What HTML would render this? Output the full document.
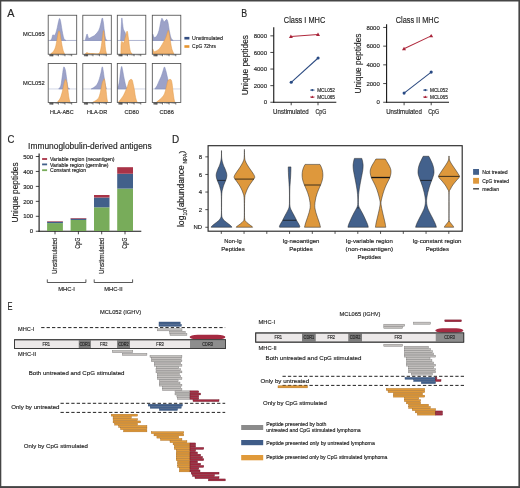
<!DOCTYPE html>
<html lang="en"><head><meta charset="utf-8"><title>Figure</title>
<style>
html,body{margin:0;padding:0;background:#fff;}
body{width:520px;height:488px;overflow:hidden;}
svg{display:block;will-change:transform;}
text{font-family:"Liberation Sans",sans-serif;fill:#262626;stroke:#262626;stroke-width:0.16px;}
</style></head><body>
<svg width="520" height="488" viewBox="0 0 520 488">
<rect x="0" y="0" width="520" height="488" fill="#fff"/>
<text x="7.3" y="17" font-size="10.4" textLength="7.2" lengthAdjust="spacingAndGlyphs" stroke-width="0.3">A</text>
<text x="241.3" y="16.9" font-size="10.4" textLength="5.9" lengthAdjust="spacingAndGlyphs" stroke-width="0.3">B</text>
<text x="7.6" y="143.2" font-size="10.4" textLength="6.9" lengthAdjust="spacingAndGlyphs" stroke-width="0.3">C</text>
<text x="172.0" y="143.4" font-size="10.4" textLength="7.2" lengthAdjust="spacingAndGlyphs" stroke-width="0.3">D</text>
<text x="7.6" y="310" font-size="10.4" textLength="5.0" lengthAdjust="spacingAndGlyphs" stroke-width="0.3">E</text>
<clipPath id="hc00"><rect x="48.20" y="15.25" width="28.5" height="39.00"/></clipPath>
<g clip-path="url(#hc00)">
<line x1="48.20" y1="40.45" x2="76.70" y2="40.45" stroke="#9AA1C4" stroke-width="0.8"/>
<path d="M50.40 40.45C50.63 40.14 51.29 39.66 51.70 38.70C52.11 37.74 52.38 35.77 52.70 35.10C53.02 34.43 53.22 34.91 53.50 35.00C53.78 35.09 53.84 35.94 54.25 35.60C54.66 35.26 55.25 34.58 55.80 33.10C56.35 31.62 56.80 29.52 57.30 27.40C57.80 25.28 58.19 22.92 58.60 21.30C59.01 19.68 59.24 18.40 59.60 18.40C59.96 18.40 60.24 19.68 60.60 21.30C60.96 22.92 61.22 25.19 61.60 27.40C61.98 29.61 62.27 31.57 62.70 33.60C63.13 35.63 63.41 37.47 64.00 38.70C64.59 39.93 65.64 40.14 66.00 40.45Z" fill="#9CA2C8" stroke="#7F88B8" stroke-width="0.5"/>
<path d="M50.70 53.95C51.24 53.42 52.78 52.45 53.70 51.00C54.62 49.55 55.15 48.29 55.80 45.90C56.45 43.51 56.83 40.20 57.30 37.70C57.77 35.20 58.06 33.21 58.40 32.00C58.74 30.79 58.91 30.80 59.20 31.00C59.49 31.20 59.64 31.34 60.00 33.10C60.36 34.86 60.75 38.14 61.20 40.80C61.65 43.46 62.05 45.88 62.50 47.90C62.95 49.92 63.32 50.91 63.70 52.00C64.08 53.09 64.44 53.60 64.60 53.95Z" fill="#F2B573" stroke="#E39B47" stroke-width="0.5"/>
</g>
<rect x="48.20" y="15.25" width="28.50" height="39.00" fill="none" stroke="#505050" stroke-width="0.85"/>
<line x1="49.80" y1="54.45" x2="49.80" y2="56.25" stroke="#222" stroke-width="0.6"/>
<line x1="50.60" y1="54.45" x2="50.60" y2="56.25" stroke="#222" stroke-width="0.6"/>
<line x1="51.30" y1="54.45" x2="51.30" y2="56.25" stroke="#222" stroke-width="0.6"/>
<line x1="51.90" y1="54.45" x2="51.90" y2="56.25" stroke="#222" stroke-width="0.6"/>
<line x1="52.50" y1="54.45" x2="52.50" y2="56.25" stroke="#222" stroke-width="0.6"/>
<line x1="53.00" y1="54.45" x2="53.00" y2="56.25" stroke="#222" stroke-width="0.6"/>
<line x1="58.40" y1="54.45" x2="58.40" y2="56.25" stroke="#222" stroke-width="0.6"/>
<line x1="65.00" y1="54.45" x2="65.00" y2="56.25" stroke="#222" stroke-width="0.6"/>
<line x1="71.70" y1="54.45" x2="71.70" y2="56.25" stroke="#222" stroke-width="0.6"/>
<line x1="53.72" y1="54.45" x2="53.72" y2="55.45" stroke="#555" stroke-width="0.35"/>
<line x1="54.90" y1="54.45" x2="54.90" y2="55.45" stroke="#555" stroke-width="0.35"/>
<line x1="55.73" y1="54.45" x2="55.73" y2="55.45" stroke="#555" stroke-width="0.35"/>
<line x1="56.38" y1="54.45" x2="56.38" y2="55.45" stroke="#555" stroke-width="0.35"/>
<line x1="56.91" y1="54.45" x2="56.91" y2="55.45" stroke="#555" stroke-width="0.35"/>
<line x1="57.36" y1="54.45" x2="57.36" y2="55.45" stroke="#555" stroke-width="0.35"/>
<line x1="57.75" y1="54.45" x2="57.75" y2="55.45" stroke="#555" stroke-width="0.35"/>
<line x1="58.09" y1="54.45" x2="58.09" y2="55.45" stroke="#555" stroke-width="0.35"/>
<line x1="60.42" y1="54.45" x2="60.42" y2="55.45" stroke="#555" stroke-width="0.35"/>
<line x1="61.60" y1="54.45" x2="61.60" y2="55.45" stroke="#555" stroke-width="0.35"/>
<line x1="62.43" y1="54.45" x2="62.43" y2="55.45" stroke="#555" stroke-width="0.35"/>
<line x1="63.08" y1="54.45" x2="63.08" y2="55.45" stroke="#555" stroke-width="0.35"/>
<line x1="63.61" y1="54.45" x2="63.61" y2="55.45" stroke="#555" stroke-width="0.35"/>
<line x1="64.06" y1="54.45" x2="64.06" y2="55.45" stroke="#555" stroke-width="0.35"/>
<line x1="64.45" y1="54.45" x2="64.45" y2="55.45" stroke="#555" stroke-width="0.35"/>
<line x1="64.79" y1="54.45" x2="64.79" y2="55.45" stroke="#555" stroke-width="0.35"/>
<line x1="67.02" y1="54.45" x2="67.02" y2="55.45" stroke="#555" stroke-width="0.35"/>
<line x1="68.20" y1="54.45" x2="68.20" y2="55.45" stroke="#555" stroke-width="0.35"/>
<line x1="69.03" y1="54.45" x2="69.03" y2="55.45" stroke="#555" stroke-width="0.35"/>
<line x1="69.68" y1="54.45" x2="69.68" y2="55.45" stroke="#555" stroke-width="0.35"/>
<line x1="70.21" y1="54.45" x2="70.21" y2="55.45" stroke="#555" stroke-width="0.35"/>
<line x1="70.66" y1="54.45" x2="70.66" y2="55.45" stroke="#555" stroke-width="0.35"/>
<line x1="71.05" y1="54.45" x2="71.05" y2="55.45" stroke="#555" stroke-width="0.35"/>
<line x1="71.39" y1="54.45" x2="71.39" y2="55.45" stroke="#555" stroke-width="0.35"/>
<rect x="49.60" y="54.55" width="3.40" height="0.80" fill="#5a5a5a"/>
<clipPath id="hc01"><rect x="82.80" y="15.25" width="28.5" height="39.00"/></clipPath>
<g clip-path="url(#hc01)">
<line x1="82.80" y1="40.45" x2="111.30" y2="40.45" stroke="#9AA1C4" stroke-width="0.8"/>
<path d="M85.20 40.45C85.38 39.74 85.86 37.66 86.20 36.50C86.54 35.34 86.78 34.00 87.10 34.00C87.42 34.00 87.68 35.73 88.00 36.50C88.32 37.27 88.18 38.25 88.90 38.30C89.62 38.35 90.90 37.39 92.00 36.80C93.10 36.21 93.79 36.13 95.00 35.00C96.21 33.87 97.69 32.39 98.70 30.50C99.71 28.61 99.97 26.73 100.60 24.50C101.23 22.27 101.71 18.55 102.20 18.10C102.69 17.65 102.90 19.68 103.30 22.00C103.70 24.32 103.99 28.03 104.40 31.00C104.81 33.97 105.10 36.80 105.60 38.50C106.10 40.20 106.91 40.10 107.20 40.45Z" fill="#9CA2C8" stroke="#7F88B8" stroke-width="0.5"/>
<path d="M85.20 53.95C85.40 53.78 85.96 53.28 86.30 53.00C86.64 52.72 86.70 52.35 87.10 52.40C87.50 52.45 87.44 53.08 88.50 53.30C89.56 53.52 91.47 53.48 93.00 53.60C94.53 53.72 95.85 54.08 97.00 53.95C98.15 53.82 98.68 53.97 99.40 52.90C100.12 51.83 100.46 50.68 101.00 48.00C101.54 45.32 101.95 41.13 102.40 38.00C102.85 34.87 103.10 30.42 103.50 30.60C103.90 30.78 104.24 35.69 104.60 39.00C104.96 42.31 105.14 46.31 105.50 49.00C105.86 51.69 106.40 53.06 106.60 53.95Z" fill="#F2B573" stroke="#E39B47" stroke-width="0.5"/>
</g>
<rect x="82.80" y="15.25" width="28.50" height="39.00" fill="none" stroke="#505050" stroke-width="0.85"/>
<line x1="84.40" y1="54.45" x2="84.40" y2="56.25" stroke="#222" stroke-width="0.6"/>
<line x1="85.20" y1="54.45" x2="85.20" y2="56.25" stroke="#222" stroke-width="0.6"/>
<line x1="85.90" y1="54.45" x2="85.90" y2="56.25" stroke="#222" stroke-width="0.6"/>
<line x1="86.50" y1="54.45" x2="86.50" y2="56.25" stroke="#222" stroke-width="0.6"/>
<line x1="87.10" y1="54.45" x2="87.10" y2="56.25" stroke="#222" stroke-width="0.6"/>
<line x1="87.60" y1="54.45" x2="87.60" y2="56.25" stroke="#222" stroke-width="0.6"/>
<line x1="93.00" y1="54.45" x2="93.00" y2="56.25" stroke="#222" stroke-width="0.6"/>
<line x1="99.60" y1="54.45" x2="99.60" y2="56.25" stroke="#222" stroke-width="0.6"/>
<line x1="106.30" y1="54.45" x2="106.30" y2="56.25" stroke="#222" stroke-width="0.6"/>
<line x1="88.32" y1="54.45" x2="88.32" y2="55.45" stroke="#555" stroke-width="0.35"/>
<line x1="89.50" y1="54.45" x2="89.50" y2="55.45" stroke="#555" stroke-width="0.35"/>
<line x1="90.33" y1="54.45" x2="90.33" y2="55.45" stroke="#555" stroke-width="0.35"/>
<line x1="90.98" y1="54.45" x2="90.98" y2="55.45" stroke="#555" stroke-width="0.35"/>
<line x1="91.51" y1="54.45" x2="91.51" y2="55.45" stroke="#555" stroke-width="0.35"/>
<line x1="91.96" y1="54.45" x2="91.96" y2="55.45" stroke="#555" stroke-width="0.35"/>
<line x1="92.35" y1="54.45" x2="92.35" y2="55.45" stroke="#555" stroke-width="0.35"/>
<line x1="92.69" y1="54.45" x2="92.69" y2="55.45" stroke="#555" stroke-width="0.35"/>
<line x1="95.02" y1="54.45" x2="95.02" y2="55.45" stroke="#555" stroke-width="0.35"/>
<line x1="96.20" y1="54.45" x2="96.20" y2="55.45" stroke="#555" stroke-width="0.35"/>
<line x1="97.03" y1="54.45" x2="97.03" y2="55.45" stroke="#555" stroke-width="0.35"/>
<line x1="97.68" y1="54.45" x2="97.68" y2="55.45" stroke="#555" stroke-width="0.35"/>
<line x1="98.21" y1="54.45" x2="98.21" y2="55.45" stroke="#555" stroke-width="0.35"/>
<line x1="98.66" y1="54.45" x2="98.66" y2="55.45" stroke="#555" stroke-width="0.35"/>
<line x1="99.05" y1="54.45" x2="99.05" y2="55.45" stroke="#555" stroke-width="0.35"/>
<line x1="99.39" y1="54.45" x2="99.39" y2="55.45" stroke="#555" stroke-width="0.35"/>
<line x1="101.62" y1="54.45" x2="101.62" y2="55.45" stroke="#555" stroke-width="0.35"/>
<line x1="102.80" y1="54.45" x2="102.80" y2="55.45" stroke="#555" stroke-width="0.35"/>
<line x1="103.63" y1="54.45" x2="103.63" y2="55.45" stroke="#555" stroke-width="0.35"/>
<line x1="104.28" y1="54.45" x2="104.28" y2="55.45" stroke="#555" stroke-width="0.35"/>
<line x1="104.81" y1="54.45" x2="104.81" y2="55.45" stroke="#555" stroke-width="0.35"/>
<line x1="105.26" y1="54.45" x2="105.26" y2="55.45" stroke="#555" stroke-width="0.35"/>
<line x1="105.65" y1="54.45" x2="105.65" y2="55.45" stroke="#555" stroke-width="0.35"/>
<line x1="105.99" y1="54.45" x2="105.99" y2="55.45" stroke="#555" stroke-width="0.35"/>
<rect x="84.20" y="54.55" width="3.40" height="0.80" fill="#5a5a5a"/>
<clipPath id="hc02"><rect x="117.30" y="15.25" width="28.5" height="39.00"/></clipPath>
<g clip-path="url(#hc02)">
<line x1="117.30" y1="40.45" x2="145.80" y2="40.45" stroke="#9AA1C4" stroke-width="0.8"/>
<path d="M120.60 40.45C120.69 38.57 120.88 34.02 121.10 30.00C121.32 25.98 121.53 19.27 121.80 18.10C122.07 16.93 122.33 21.59 122.60 23.50C122.87 25.41 122.99 27.35 123.30 28.70C123.61 30.05 123.98 30.32 124.30 31.00C124.62 31.68 124.78 31.51 125.10 32.50C125.42 33.49 125.70 35.07 126.10 36.50C126.50 37.93 127.08 39.74 127.30 40.45Z" fill="#9CA2C8" stroke="#7F88B8" stroke-width="0.5"/>
<path d="M120.90 53.95C120.94 52.34 120.96 47.26 121.10 45.00C121.24 42.74 121.39 41.89 121.70 41.40C122.01 40.91 122.40 42.10 122.80 42.30C123.20 42.50 123.40 43.63 123.90 42.50C124.40 41.37 125.01 38.03 125.60 36.00C126.19 33.97 126.70 30.84 127.20 31.20C127.70 31.56 128.00 35.30 128.40 38.00C128.80 40.70 129.02 43.77 129.40 46.20C129.78 48.63 130.00 50.10 130.50 51.50C131.00 52.90 131.89 53.51 132.20 53.95Z" fill="#F2B573" stroke="#E39B47" stroke-width="0.5"/>
</g>
<rect x="117.30" y="15.25" width="28.50" height="39.00" fill="none" stroke="#505050" stroke-width="0.85"/>
<line x1="118.90" y1="54.45" x2="118.90" y2="56.25" stroke="#222" stroke-width="0.6"/>
<line x1="119.70" y1="54.45" x2="119.70" y2="56.25" stroke="#222" stroke-width="0.6"/>
<line x1="120.40" y1="54.45" x2="120.40" y2="56.25" stroke="#222" stroke-width="0.6"/>
<line x1="121.00" y1="54.45" x2="121.00" y2="56.25" stroke="#222" stroke-width="0.6"/>
<line x1="121.60" y1="54.45" x2="121.60" y2="56.25" stroke="#222" stroke-width="0.6"/>
<line x1="122.10" y1="54.45" x2="122.10" y2="56.25" stroke="#222" stroke-width="0.6"/>
<line x1="127.50" y1="54.45" x2="127.50" y2="56.25" stroke="#222" stroke-width="0.6"/>
<line x1="134.10" y1="54.45" x2="134.10" y2="56.25" stroke="#222" stroke-width="0.6"/>
<line x1="140.80" y1="54.45" x2="140.80" y2="56.25" stroke="#222" stroke-width="0.6"/>
<line x1="122.82" y1="54.45" x2="122.82" y2="55.45" stroke="#555" stroke-width="0.35"/>
<line x1="124.00" y1="54.45" x2="124.00" y2="55.45" stroke="#555" stroke-width="0.35"/>
<line x1="124.83" y1="54.45" x2="124.83" y2="55.45" stroke="#555" stroke-width="0.35"/>
<line x1="125.48" y1="54.45" x2="125.48" y2="55.45" stroke="#555" stroke-width="0.35"/>
<line x1="126.01" y1="54.45" x2="126.01" y2="55.45" stroke="#555" stroke-width="0.35"/>
<line x1="126.46" y1="54.45" x2="126.46" y2="55.45" stroke="#555" stroke-width="0.35"/>
<line x1="126.85" y1="54.45" x2="126.85" y2="55.45" stroke="#555" stroke-width="0.35"/>
<line x1="127.19" y1="54.45" x2="127.19" y2="55.45" stroke="#555" stroke-width="0.35"/>
<line x1="129.52" y1="54.45" x2="129.52" y2="55.45" stroke="#555" stroke-width="0.35"/>
<line x1="130.70" y1="54.45" x2="130.70" y2="55.45" stroke="#555" stroke-width="0.35"/>
<line x1="131.53" y1="54.45" x2="131.53" y2="55.45" stroke="#555" stroke-width="0.35"/>
<line x1="132.18" y1="54.45" x2="132.18" y2="55.45" stroke="#555" stroke-width="0.35"/>
<line x1="132.71" y1="54.45" x2="132.71" y2="55.45" stroke="#555" stroke-width="0.35"/>
<line x1="133.16" y1="54.45" x2="133.16" y2="55.45" stroke="#555" stroke-width="0.35"/>
<line x1="133.55" y1="54.45" x2="133.55" y2="55.45" stroke="#555" stroke-width="0.35"/>
<line x1="133.89" y1="54.45" x2="133.89" y2="55.45" stroke="#555" stroke-width="0.35"/>
<line x1="136.12" y1="54.45" x2="136.12" y2="55.45" stroke="#555" stroke-width="0.35"/>
<line x1="137.30" y1="54.45" x2="137.30" y2="55.45" stroke="#555" stroke-width="0.35"/>
<line x1="138.13" y1="54.45" x2="138.13" y2="55.45" stroke="#555" stroke-width="0.35"/>
<line x1="138.78" y1="54.45" x2="138.78" y2="55.45" stroke="#555" stroke-width="0.35"/>
<line x1="139.31" y1="54.45" x2="139.31" y2="55.45" stroke="#555" stroke-width="0.35"/>
<line x1="139.76" y1="54.45" x2="139.76" y2="55.45" stroke="#555" stroke-width="0.35"/>
<line x1="140.15" y1="54.45" x2="140.15" y2="55.45" stroke="#555" stroke-width="0.35"/>
<line x1="140.49" y1="54.45" x2="140.49" y2="55.45" stroke="#555" stroke-width="0.35"/>
<rect x="118.70" y="54.55" width="3.40" height="0.80" fill="#5a5a5a"/>
<clipPath id="hc03"><rect x="152.30" y="15.25" width="28.5" height="39.00"/></clipPath>
<g clip-path="url(#hc03)">
<line x1="152.30" y1="40.45" x2="180.80" y2="40.45" stroke="#9AA1C4" stroke-width="0.8"/>
<path d="M152.70 40.45C152.70 39.33 152.54 34.95 152.70 34.20C152.86 33.45 153.26 35.69 153.60 36.30C153.94 36.91 153.99 37.73 154.60 37.60C155.21 37.47 156.19 36.93 157.00 35.60C157.81 34.27 158.49 32.38 159.10 30.20C159.71 28.02 159.99 25.41 160.40 23.50C160.81 21.59 161.11 20.54 161.40 19.60C161.69 18.66 161.75 18.30 162.00 18.30C162.25 18.30 162.53 19.11 162.80 19.60C163.07 20.09 163.19 20.60 163.50 21.00C163.81 21.40 164.09 21.98 164.50 21.80C164.91 21.62 165.39 20.43 165.80 20.00C166.21 19.57 166.49 19.26 166.80 19.40C167.11 19.54 167.25 20.06 167.50 20.80C167.75 21.54 167.84 21.57 168.20 23.50C168.56 25.43 168.96 28.84 169.50 31.50C170.04 34.16 170.53 36.69 171.20 38.30C171.87 39.91 172.84 40.06 173.20 40.45Z" fill="#9CA2C8" stroke="#7F88B8" stroke-width="0.5"/>
<path d="M152.70 53.95C152.70 53.06 152.56 49.57 152.70 49.00C152.84 48.43 153.19 50.31 153.50 50.80C153.81 51.29 153.52 51.90 154.40 51.70C155.28 51.50 157.19 50.67 158.40 49.70C159.61 48.73 160.13 47.76 161.10 46.30C162.07 44.84 162.95 43.17 163.80 41.60C164.65 40.03 165.08 39.42 165.80 37.60C166.52 35.78 167.31 32.71 167.80 31.50C168.29 30.29 168.19 30.16 168.50 30.90C168.81 31.64 169.09 33.31 169.50 35.60C169.91 37.89 170.33 41.06 170.80 43.60C171.27 46.14 171.52 47.84 172.10 49.70C172.68 51.56 173.66 53.19 174.00 53.95Z" fill="#F2B573" stroke="#E39B47" stroke-width="0.5"/>
</g>
<rect x="152.30" y="15.25" width="28.50" height="39.00" fill="none" stroke="#505050" stroke-width="0.85"/>
<line x1="153.90" y1="54.45" x2="153.90" y2="56.25" stroke="#222" stroke-width="0.6"/>
<line x1="154.70" y1="54.45" x2="154.70" y2="56.25" stroke="#222" stroke-width="0.6"/>
<line x1="155.40" y1="54.45" x2="155.40" y2="56.25" stroke="#222" stroke-width="0.6"/>
<line x1="156.00" y1="54.45" x2="156.00" y2="56.25" stroke="#222" stroke-width="0.6"/>
<line x1="156.60" y1="54.45" x2="156.60" y2="56.25" stroke="#222" stroke-width="0.6"/>
<line x1="157.10" y1="54.45" x2="157.10" y2="56.25" stroke="#222" stroke-width="0.6"/>
<line x1="162.50" y1="54.45" x2="162.50" y2="56.25" stroke="#222" stroke-width="0.6"/>
<line x1="169.10" y1="54.45" x2="169.10" y2="56.25" stroke="#222" stroke-width="0.6"/>
<line x1="175.80" y1="54.45" x2="175.80" y2="56.25" stroke="#222" stroke-width="0.6"/>
<line x1="157.82" y1="54.45" x2="157.82" y2="55.45" stroke="#555" stroke-width="0.35"/>
<line x1="159.00" y1="54.45" x2="159.00" y2="55.45" stroke="#555" stroke-width="0.35"/>
<line x1="159.83" y1="54.45" x2="159.83" y2="55.45" stroke="#555" stroke-width="0.35"/>
<line x1="160.48" y1="54.45" x2="160.48" y2="55.45" stroke="#555" stroke-width="0.35"/>
<line x1="161.01" y1="54.45" x2="161.01" y2="55.45" stroke="#555" stroke-width="0.35"/>
<line x1="161.46" y1="54.45" x2="161.46" y2="55.45" stroke="#555" stroke-width="0.35"/>
<line x1="161.85" y1="54.45" x2="161.85" y2="55.45" stroke="#555" stroke-width="0.35"/>
<line x1="162.19" y1="54.45" x2="162.19" y2="55.45" stroke="#555" stroke-width="0.35"/>
<line x1="164.52" y1="54.45" x2="164.52" y2="55.45" stroke="#555" stroke-width="0.35"/>
<line x1="165.70" y1="54.45" x2="165.70" y2="55.45" stroke="#555" stroke-width="0.35"/>
<line x1="166.53" y1="54.45" x2="166.53" y2="55.45" stroke="#555" stroke-width="0.35"/>
<line x1="167.18" y1="54.45" x2="167.18" y2="55.45" stroke="#555" stroke-width="0.35"/>
<line x1="167.71" y1="54.45" x2="167.71" y2="55.45" stroke="#555" stroke-width="0.35"/>
<line x1="168.16" y1="54.45" x2="168.16" y2="55.45" stroke="#555" stroke-width="0.35"/>
<line x1="168.55" y1="54.45" x2="168.55" y2="55.45" stroke="#555" stroke-width="0.35"/>
<line x1="168.89" y1="54.45" x2="168.89" y2="55.45" stroke="#555" stroke-width="0.35"/>
<line x1="171.12" y1="54.45" x2="171.12" y2="55.45" stroke="#555" stroke-width="0.35"/>
<line x1="172.30" y1="54.45" x2="172.30" y2="55.45" stroke="#555" stroke-width="0.35"/>
<line x1="173.13" y1="54.45" x2="173.13" y2="55.45" stroke="#555" stroke-width="0.35"/>
<line x1="173.78" y1="54.45" x2="173.78" y2="55.45" stroke="#555" stroke-width="0.35"/>
<line x1="174.31" y1="54.45" x2="174.31" y2="55.45" stroke="#555" stroke-width="0.35"/>
<line x1="174.76" y1="54.45" x2="174.76" y2="55.45" stroke="#555" stroke-width="0.35"/>
<line x1="175.15" y1="54.45" x2="175.15" y2="55.45" stroke="#555" stroke-width="0.35"/>
<line x1="175.49" y1="54.45" x2="175.49" y2="55.45" stroke="#555" stroke-width="0.35"/>
<rect x="153.70" y="54.55" width="3.40" height="0.80" fill="#5a5a5a"/>
<clipPath id="hc10"><rect x="48.20" y="63.55" width="28.5" height="39.00"/></clipPath>
<g clip-path="url(#hc10)">
<line x1="48.20" y1="88.95" x2="76.70" y2="88.95" stroke="#CDD2E5" stroke-width="0.9"/>
<path d="M58.70 88.95C58.97 88.60 59.75 87.94 60.20 87.00C60.65 86.06 60.82 85.68 61.20 83.70C61.58 81.72 61.94 78.56 62.30 76.00C62.66 73.44 62.93 71.14 63.20 69.50C63.47 67.86 63.53 67.17 63.80 66.90C64.07 66.63 64.38 67.23 64.70 68.00C65.02 68.77 65.24 69.22 65.60 71.20C65.96 73.18 66.32 76.30 66.70 79.00C67.08 81.70 67.38 84.58 67.70 86.20C68.02 87.82 68.16 87.50 68.50 88.00C68.84 88.50 69.40 88.78 69.60 88.95Z" fill="#9CA2C8" stroke="#7F88B8" stroke-width="0.5"/>
<path d="M57.40 102.25C57.76 101.77 58.77 100.63 59.40 99.60C60.03 98.56 60.34 98.05 60.90 96.50C61.46 94.95 61.94 93.29 62.50 91.00C63.06 88.71 63.55 85.74 64.00 83.80C64.45 81.86 64.69 80.96 65.00 80.20C65.31 79.44 65.38 79.17 65.70 79.60C66.02 80.03 66.42 80.94 66.80 82.60C67.18 84.26 67.48 86.48 67.80 88.80C68.12 91.12 68.31 93.48 68.60 95.50C68.89 97.52 69.09 98.78 69.40 100.00C69.71 101.22 70.14 101.84 70.30 102.25Z" fill="#F2B573" stroke="#E39B47" stroke-width="0.5"/>
</g>
<rect x="48.20" y="63.55" width="28.50" height="39.00" fill="none" stroke="#505050" stroke-width="0.85"/>
<line x1="49.80" y1="102.75" x2="49.80" y2="104.55" stroke="#222" stroke-width="0.6"/>
<line x1="50.60" y1="102.75" x2="50.60" y2="104.55" stroke="#222" stroke-width="0.6"/>
<line x1="51.30" y1="102.75" x2="51.30" y2="104.55" stroke="#222" stroke-width="0.6"/>
<line x1="51.90" y1="102.75" x2="51.90" y2="104.55" stroke="#222" stroke-width="0.6"/>
<line x1="52.50" y1="102.75" x2="52.50" y2="104.55" stroke="#222" stroke-width="0.6"/>
<line x1="53.00" y1="102.75" x2="53.00" y2="104.55" stroke="#222" stroke-width="0.6"/>
<line x1="58.40" y1="102.75" x2="58.40" y2="104.55" stroke="#222" stroke-width="0.6"/>
<line x1="65.00" y1="102.75" x2="65.00" y2="104.55" stroke="#222" stroke-width="0.6"/>
<line x1="71.70" y1="102.75" x2="71.70" y2="104.55" stroke="#222" stroke-width="0.6"/>
<line x1="53.72" y1="102.75" x2="53.72" y2="103.75" stroke="#555" stroke-width="0.35"/>
<line x1="54.90" y1="102.75" x2="54.90" y2="103.75" stroke="#555" stroke-width="0.35"/>
<line x1="55.73" y1="102.75" x2="55.73" y2="103.75" stroke="#555" stroke-width="0.35"/>
<line x1="56.38" y1="102.75" x2="56.38" y2="103.75" stroke="#555" stroke-width="0.35"/>
<line x1="56.91" y1="102.75" x2="56.91" y2="103.75" stroke="#555" stroke-width="0.35"/>
<line x1="57.36" y1="102.75" x2="57.36" y2="103.75" stroke="#555" stroke-width="0.35"/>
<line x1="57.75" y1="102.75" x2="57.75" y2="103.75" stroke="#555" stroke-width="0.35"/>
<line x1="58.09" y1="102.75" x2="58.09" y2="103.75" stroke="#555" stroke-width="0.35"/>
<line x1="60.42" y1="102.75" x2="60.42" y2="103.75" stroke="#555" stroke-width="0.35"/>
<line x1="61.60" y1="102.75" x2="61.60" y2="103.75" stroke="#555" stroke-width="0.35"/>
<line x1="62.43" y1="102.75" x2="62.43" y2="103.75" stroke="#555" stroke-width="0.35"/>
<line x1="63.08" y1="102.75" x2="63.08" y2="103.75" stroke="#555" stroke-width="0.35"/>
<line x1="63.61" y1="102.75" x2="63.61" y2="103.75" stroke="#555" stroke-width="0.35"/>
<line x1="64.06" y1="102.75" x2="64.06" y2="103.75" stroke="#555" stroke-width="0.35"/>
<line x1="64.45" y1="102.75" x2="64.45" y2="103.75" stroke="#555" stroke-width="0.35"/>
<line x1="64.79" y1="102.75" x2="64.79" y2="103.75" stroke="#555" stroke-width="0.35"/>
<line x1="67.02" y1="102.75" x2="67.02" y2="103.75" stroke="#555" stroke-width="0.35"/>
<line x1="68.20" y1="102.75" x2="68.20" y2="103.75" stroke="#555" stroke-width="0.35"/>
<line x1="69.03" y1="102.75" x2="69.03" y2="103.75" stroke="#555" stroke-width="0.35"/>
<line x1="69.68" y1="102.75" x2="69.68" y2="103.75" stroke="#555" stroke-width="0.35"/>
<line x1="70.21" y1="102.75" x2="70.21" y2="103.75" stroke="#555" stroke-width="0.35"/>
<line x1="70.66" y1="102.75" x2="70.66" y2="103.75" stroke="#555" stroke-width="0.35"/>
<line x1="71.05" y1="102.75" x2="71.05" y2="103.75" stroke="#555" stroke-width="0.35"/>
<line x1="71.39" y1="102.75" x2="71.39" y2="103.75" stroke="#555" stroke-width="0.35"/>
<rect x="49.60" y="102.85" width="3.40" height="0.80" fill="#5a5a5a"/>
<clipPath id="hc11"><rect x="82.80" y="63.55" width="28.5" height="39.00"/></clipPath>
<g clip-path="url(#hc11)">
<line x1="82.80" y1="88.95" x2="111.30" y2="88.95" stroke="#CDD2E5" stroke-width="0.9"/>
<path d="M91.20 88.95C91.65 88.69 92.80 88.10 93.70 87.50C94.60 86.90 95.43 86.50 96.20 85.60C96.97 84.70 97.42 83.74 98.00 82.50C98.58 81.26 98.88 80.41 99.40 78.70C99.92 76.99 100.40 75.12 100.90 73.00C101.40 70.88 101.79 67.35 102.20 66.90C102.61 66.45 102.88 68.83 103.20 70.50C103.52 72.17 103.64 73.77 104.00 76.20C104.36 78.63 104.77 81.70 105.20 84.00C105.63 86.30 106.18 88.06 106.40 88.95Z" fill="#9CA2C8" stroke="#7F88B8" stroke-width="0.5"/>
<path d="M92.80 102.25C93.29 101.97 94.55 101.34 95.50 100.70C96.45 100.06 97.38 99.64 98.10 98.70C98.82 97.76 99.05 96.85 99.50 95.50C99.95 94.15 100.22 92.91 100.60 91.20C100.98 89.49 101.26 87.67 101.60 86.00C101.94 84.33 102.16 82.94 102.50 81.90C102.84 80.86 103.16 80.72 103.50 80.20C103.84 79.68 104.08 78.32 104.40 79.00C104.72 79.68 104.98 81.80 105.30 84.00C105.62 86.20 105.91 88.68 106.20 91.20C106.49 93.72 106.61 96.01 106.90 98.00C107.19 99.99 107.64 101.48 107.80 102.25Z" fill="#F2B573" stroke="#E39B47" stroke-width="0.5"/>
</g>
<rect x="82.80" y="63.55" width="28.50" height="39.00" fill="none" stroke="#505050" stroke-width="0.85"/>
<line x1="84.40" y1="102.75" x2="84.40" y2="104.55" stroke="#222" stroke-width="0.6"/>
<line x1="85.20" y1="102.75" x2="85.20" y2="104.55" stroke="#222" stroke-width="0.6"/>
<line x1="85.90" y1="102.75" x2="85.90" y2="104.55" stroke="#222" stroke-width="0.6"/>
<line x1="86.50" y1="102.75" x2="86.50" y2="104.55" stroke="#222" stroke-width="0.6"/>
<line x1="87.10" y1="102.75" x2="87.10" y2="104.55" stroke="#222" stroke-width="0.6"/>
<line x1="87.60" y1="102.75" x2="87.60" y2="104.55" stroke="#222" stroke-width="0.6"/>
<line x1="93.00" y1="102.75" x2="93.00" y2="104.55" stroke="#222" stroke-width="0.6"/>
<line x1="99.60" y1="102.75" x2="99.60" y2="104.55" stroke="#222" stroke-width="0.6"/>
<line x1="106.30" y1="102.75" x2="106.30" y2="104.55" stroke="#222" stroke-width="0.6"/>
<line x1="88.32" y1="102.75" x2="88.32" y2="103.75" stroke="#555" stroke-width="0.35"/>
<line x1="89.50" y1="102.75" x2="89.50" y2="103.75" stroke="#555" stroke-width="0.35"/>
<line x1="90.33" y1="102.75" x2="90.33" y2="103.75" stroke="#555" stroke-width="0.35"/>
<line x1="90.98" y1="102.75" x2="90.98" y2="103.75" stroke="#555" stroke-width="0.35"/>
<line x1="91.51" y1="102.75" x2="91.51" y2="103.75" stroke="#555" stroke-width="0.35"/>
<line x1="91.96" y1="102.75" x2="91.96" y2="103.75" stroke="#555" stroke-width="0.35"/>
<line x1="92.35" y1="102.75" x2="92.35" y2="103.75" stroke="#555" stroke-width="0.35"/>
<line x1="92.69" y1="102.75" x2="92.69" y2="103.75" stroke="#555" stroke-width="0.35"/>
<line x1="95.02" y1="102.75" x2="95.02" y2="103.75" stroke="#555" stroke-width="0.35"/>
<line x1="96.20" y1="102.75" x2="96.20" y2="103.75" stroke="#555" stroke-width="0.35"/>
<line x1="97.03" y1="102.75" x2="97.03" y2="103.75" stroke="#555" stroke-width="0.35"/>
<line x1="97.68" y1="102.75" x2="97.68" y2="103.75" stroke="#555" stroke-width="0.35"/>
<line x1="98.21" y1="102.75" x2="98.21" y2="103.75" stroke="#555" stroke-width="0.35"/>
<line x1="98.66" y1="102.75" x2="98.66" y2="103.75" stroke="#555" stroke-width="0.35"/>
<line x1="99.05" y1="102.75" x2="99.05" y2="103.75" stroke="#555" stroke-width="0.35"/>
<line x1="99.39" y1="102.75" x2="99.39" y2="103.75" stroke="#555" stroke-width="0.35"/>
<line x1="101.62" y1="102.75" x2="101.62" y2="103.75" stroke="#555" stroke-width="0.35"/>
<line x1="102.80" y1="102.75" x2="102.80" y2="103.75" stroke="#555" stroke-width="0.35"/>
<line x1="103.63" y1="102.75" x2="103.63" y2="103.75" stroke="#555" stroke-width="0.35"/>
<line x1="104.28" y1="102.75" x2="104.28" y2="103.75" stroke="#555" stroke-width="0.35"/>
<line x1="104.81" y1="102.75" x2="104.81" y2="103.75" stroke="#555" stroke-width="0.35"/>
<line x1="105.26" y1="102.75" x2="105.26" y2="103.75" stroke="#555" stroke-width="0.35"/>
<line x1="105.65" y1="102.75" x2="105.65" y2="103.75" stroke="#555" stroke-width="0.35"/>
<line x1="105.99" y1="102.75" x2="105.99" y2="103.75" stroke="#555" stroke-width="0.35"/>
<rect x="84.20" y="102.85" width="3.40" height="0.80" fill="#5a5a5a"/>
<clipPath id="hc12"><rect x="117.30" y="63.55" width="28.5" height="39.00"/></clipPath>
<g clip-path="url(#hc12)">
<line x1="117.30" y1="88.95" x2="145.80" y2="88.95" stroke="#CDD2E5" stroke-width="0.9"/>
<path d="M117.80 88.95C117.80 88.71 117.53 88.85 117.80 87.60C118.07 86.35 118.81 84.81 119.30 82.00C119.79 79.19 120.09 74.79 120.50 72.00C120.91 69.21 121.22 66.86 121.60 66.50C121.98 66.14 122.22 68.25 122.60 70.00C122.98 71.75 123.32 74.22 123.70 76.20C124.08 78.18 124.36 79.42 124.70 81.00C125.04 82.58 125.26 83.79 125.60 85.00C125.94 86.21 126.20 86.99 126.60 87.70C127.00 88.41 127.58 88.73 127.80 88.95Z" fill="#9CA2C8" stroke="#7F88B8" stroke-width="0.5"/>
<path d="M118.40 102.25C118.90 101.61 120.25 100.01 121.20 98.70C122.15 97.39 122.89 96.48 123.70 95.00C124.51 93.52 125.02 92.08 125.70 90.50C126.38 88.92 126.96 87.73 127.50 86.20C128.04 84.67 128.30 83.12 128.70 82.00C129.10 80.88 129.29 80.45 129.70 80.00C130.11 79.55 130.55 79.50 131.00 79.50C131.45 79.50 131.79 79.10 132.20 80.00C132.61 80.90 132.90 82.70 133.30 84.50C133.70 86.30 133.99 87.66 134.40 90.00C134.81 92.34 135.10 95.30 135.60 97.50C136.10 99.70 136.91 101.39 137.20 102.25Z" fill="#F2B573" stroke="#E39B47" stroke-width="0.5"/>
</g>
<rect x="117.30" y="63.55" width="28.50" height="39.00" fill="none" stroke="#505050" stroke-width="0.85"/>
<line x1="118.90" y1="102.75" x2="118.90" y2="104.55" stroke="#222" stroke-width="0.6"/>
<line x1="119.70" y1="102.75" x2="119.70" y2="104.55" stroke="#222" stroke-width="0.6"/>
<line x1="120.40" y1="102.75" x2="120.40" y2="104.55" stroke="#222" stroke-width="0.6"/>
<line x1="121.00" y1="102.75" x2="121.00" y2="104.55" stroke="#222" stroke-width="0.6"/>
<line x1="121.60" y1="102.75" x2="121.60" y2="104.55" stroke="#222" stroke-width="0.6"/>
<line x1="122.10" y1="102.75" x2="122.10" y2="104.55" stroke="#222" stroke-width="0.6"/>
<line x1="127.50" y1="102.75" x2="127.50" y2="104.55" stroke="#222" stroke-width="0.6"/>
<line x1="134.10" y1="102.75" x2="134.10" y2="104.55" stroke="#222" stroke-width="0.6"/>
<line x1="140.80" y1="102.75" x2="140.80" y2="104.55" stroke="#222" stroke-width="0.6"/>
<line x1="122.82" y1="102.75" x2="122.82" y2="103.75" stroke="#555" stroke-width="0.35"/>
<line x1="124.00" y1="102.75" x2="124.00" y2="103.75" stroke="#555" stroke-width="0.35"/>
<line x1="124.83" y1="102.75" x2="124.83" y2="103.75" stroke="#555" stroke-width="0.35"/>
<line x1="125.48" y1="102.75" x2="125.48" y2="103.75" stroke="#555" stroke-width="0.35"/>
<line x1="126.01" y1="102.75" x2="126.01" y2="103.75" stroke="#555" stroke-width="0.35"/>
<line x1="126.46" y1="102.75" x2="126.46" y2="103.75" stroke="#555" stroke-width="0.35"/>
<line x1="126.85" y1="102.75" x2="126.85" y2="103.75" stroke="#555" stroke-width="0.35"/>
<line x1="127.19" y1="102.75" x2="127.19" y2="103.75" stroke="#555" stroke-width="0.35"/>
<line x1="129.52" y1="102.75" x2="129.52" y2="103.75" stroke="#555" stroke-width="0.35"/>
<line x1="130.70" y1="102.75" x2="130.70" y2="103.75" stroke="#555" stroke-width="0.35"/>
<line x1="131.53" y1="102.75" x2="131.53" y2="103.75" stroke="#555" stroke-width="0.35"/>
<line x1="132.18" y1="102.75" x2="132.18" y2="103.75" stroke="#555" stroke-width="0.35"/>
<line x1="132.71" y1="102.75" x2="132.71" y2="103.75" stroke="#555" stroke-width="0.35"/>
<line x1="133.16" y1="102.75" x2="133.16" y2="103.75" stroke="#555" stroke-width="0.35"/>
<line x1="133.55" y1="102.75" x2="133.55" y2="103.75" stroke="#555" stroke-width="0.35"/>
<line x1="133.89" y1="102.75" x2="133.89" y2="103.75" stroke="#555" stroke-width="0.35"/>
<line x1="136.12" y1="102.75" x2="136.12" y2="103.75" stroke="#555" stroke-width="0.35"/>
<line x1="137.30" y1="102.75" x2="137.30" y2="103.75" stroke="#555" stroke-width="0.35"/>
<line x1="138.13" y1="102.75" x2="138.13" y2="103.75" stroke="#555" stroke-width="0.35"/>
<line x1="138.78" y1="102.75" x2="138.78" y2="103.75" stroke="#555" stroke-width="0.35"/>
<line x1="139.31" y1="102.75" x2="139.31" y2="103.75" stroke="#555" stroke-width="0.35"/>
<line x1="139.76" y1="102.75" x2="139.76" y2="103.75" stroke="#555" stroke-width="0.35"/>
<line x1="140.15" y1="102.75" x2="140.15" y2="103.75" stroke="#555" stroke-width="0.35"/>
<line x1="140.49" y1="102.75" x2="140.49" y2="103.75" stroke="#555" stroke-width="0.35"/>
<rect x="118.70" y="102.85" width="3.40" height="0.80" fill="#5a5a5a"/>
<clipPath id="hc13"><rect x="152.30" y="63.55" width="28.5" height="39.00"/></clipPath>
<g clip-path="url(#hc13)">
<line x1="152.30" y1="88.95" x2="180.80" y2="88.95" stroke="#CDD2E5" stroke-width="0.9"/>
<path d="M154.80 88.95C155.21 88.35 156.33 87.05 157.10 85.60C157.87 84.15 158.38 82.48 159.10 80.90C159.82 79.32 160.45 78.38 161.10 76.80C161.75 75.22 162.16 73.79 162.70 72.10C163.24 70.41 163.70 68.19 164.10 67.40C164.50 66.61 164.52 66.85 164.90 67.70C165.28 68.55 165.71 70.21 166.20 72.10C166.69 73.99 167.11 76.15 167.60 78.20C168.09 80.25 168.49 81.92 168.90 83.50C169.31 85.08 169.52 86.02 169.90 87.00C170.28 87.98 170.80 88.60 171.00 88.95Z" fill="#9CA2C8" stroke="#7F88B8" stroke-width="0.5"/>
<path d="M156.40 102.25C156.76 101.95 157.43 101.42 158.40 100.60C159.37 99.78 160.70 98.94 161.80 97.70C162.90 96.46 163.71 95.52 164.50 93.70C165.29 91.88 165.68 89.67 166.20 87.60C166.72 85.53 166.99 83.59 167.40 82.20C167.81 80.81 168.07 80.39 168.50 79.90C168.93 79.41 169.31 79.50 169.80 79.50C170.29 79.50 170.79 79.16 171.20 79.90C171.61 80.64 171.74 81.24 172.10 83.60C172.46 85.96 172.82 90.10 173.20 93.00C173.58 95.90 173.88 98.03 174.20 99.70C174.52 101.37 174.86 101.79 175.00 102.25Z" fill="#F2B573" stroke="#E39B47" stroke-width="0.5"/>
</g>
<rect x="152.30" y="63.55" width="28.50" height="39.00" fill="none" stroke="#505050" stroke-width="0.85"/>
<line x1="153.90" y1="102.75" x2="153.90" y2="104.55" stroke="#222" stroke-width="0.6"/>
<line x1="154.70" y1="102.75" x2="154.70" y2="104.55" stroke="#222" stroke-width="0.6"/>
<line x1="155.40" y1="102.75" x2="155.40" y2="104.55" stroke="#222" stroke-width="0.6"/>
<line x1="156.00" y1="102.75" x2="156.00" y2="104.55" stroke="#222" stroke-width="0.6"/>
<line x1="156.60" y1="102.75" x2="156.60" y2="104.55" stroke="#222" stroke-width="0.6"/>
<line x1="157.10" y1="102.75" x2="157.10" y2="104.55" stroke="#222" stroke-width="0.6"/>
<line x1="162.50" y1="102.75" x2="162.50" y2="104.55" stroke="#222" stroke-width="0.6"/>
<line x1="169.10" y1="102.75" x2="169.10" y2="104.55" stroke="#222" stroke-width="0.6"/>
<line x1="175.80" y1="102.75" x2="175.80" y2="104.55" stroke="#222" stroke-width="0.6"/>
<line x1="157.82" y1="102.75" x2="157.82" y2="103.75" stroke="#555" stroke-width="0.35"/>
<line x1="159.00" y1="102.75" x2="159.00" y2="103.75" stroke="#555" stroke-width="0.35"/>
<line x1="159.83" y1="102.75" x2="159.83" y2="103.75" stroke="#555" stroke-width="0.35"/>
<line x1="160.48" y1="102.75" x2="160.48" y2="103.75" stroke="#555" stroke-width="0.35"/>
<line x1="161.01" y1="102.75" x2="161.01" y2="103.75" stroke="#555" stroke-width="0.35"/>
<line x1="161.46" y1="102.75" x2="161.46" y2="103.75" stroke="#555" stroke-width="0.35"/>
<line x1="161.85" y1="102.75" x2="161.85" y2="103.75" stroke="#555" stroke-width="0.35"/>
<line x1="162.19" y1="102.75" x2="162.19" y2="103.75" stroke="#555" stroke-width="0.35"/>
<line x1="164.52" y1="102.75" x2="164.52" y2="103.75" stroke="#555" stroke-width="0.35"/>
<line x1="165.70" y1="102.75" x2="165.70" y2="103.75" stroke="#555" stroke-width="0.35"/>
<line x1="166.53" y1="102.75" x2="166.53" y2="103.75" stroke="#555" stroke-width="0.35"/>
<line x1="167.18" y1="102.75" x2="167.18" y2="103.75" stroke="#555" stroke-width="0.35"/>
<line x1="167.71" y1="102.75" x2="167.71" y2="103.75" stroke="#555" stroke-width="0.35"/>
<line x1="168.16" y1="102.75" x2="168.16" y2="103.75" stroke="#555" stroke-width="0.35"/>
<line x1="168.55" y1="102.75" x2="168.55" y2="103.75" stroke="#555" stroke-width="0.35"/>
<line x1="168.89" y1="102.75" x2="168.89" y2="103.75" stroke="#555" stroke-width="0.35"/>
<line x1="171.12" y1="102.75" x2="171.12" y2="103.75" stroke="#555" stroke-width="0.35"/>
<line x1="172.30" y1="102.75" x2="172.30" y2="103.75" stroke="#555" stroke-width="0.35"/>
<line x1="173.13" y1="102.75" x2="173.13" y2="103.75" stroke="#555" stroke-width="0.35"/>
<line x1="173.78" y1="102.75" x2="173.78" y2="103.75" stroke="#555" stroke-width="0.35"/>
<line x1="174.31" y1="102.75" x2="174.31" y2="103.75" stroke="#555" stroke-width="0.35"/>
<line x1="174.76" y1="102.75" x2="174.76" y2="103.75" stroke="#555" stroke-width="0.35"/>
<line x1="175.15" y1="102.75" x2="175.15" y2="103.75" stroke="#555" stroke-width="0.35"/>
<line x1="175.49" y1="102.75" x2="175.49" y2="103.75" stroke="#555" stroke-width="0.35"/>
<rect x="153.70" y="102.85" width="3.40" height="0.80" fill="#5a5a5a"/>
<text x="23.0" y="36.1" font-size="6.2" textLength="21.6" lengthAdjust="spacingAndGlyphs">MCL065</text>
<text x="23.0" y="84.5" font-size="6.2" textLength="21.6" lengthAdjust="spacingAndGlyphs">MCL052</text>
<text x="50.0" y="113.8" font-size="6.2" textLength="23.6" lengthAdjust="spacingAndGlyphs">HLA-ABC</text>
<text x="86.9" y="113.8" font-size="6.2" textLength="20.4" lengthAdjust="spacingAndGlyphs">HLA-DR</text>
<text x="124.4" y="113.8" font-size="6.2" textLength="14.4" lengthAdjust="spacingAndGlyphs">CD80</text>
<text x="159.4" y="113.8" font-size="6.2" textLength="14.4" lengthAdjust="spacingAndGlyphs">CD86</text>
<rect x="184.40" y="36.90" width="5.00" height="2.60" fill="#344E82"/>
<rect x="184.40" y="45.20" width="5.00" height="2.60" fill="#E6952F"/>
<text x="192.1" y="40.0" font-size="5.4" textLength="30.8" lengthAdjust="spacingAndGlyphs">Unstimulated</text>
<text x="192.1" y="48.0" font-size="5.4" textLength="23.9" lengthAdjust="spacingAndGlyphs">CpG 72hrs</text>
<line x1="273.75" y1="27.30" x2="273.75" y2="102.80" stroke="#151515" stroke-width="1.1"/>
<line x1="273.20" y1="102.25" x2="336.30" y2="102.25" stroke="#151515" stroke-width="1.1"/>
<line x1="270.35" y1="102.25" x2="273.75" y2="102.25" stroke="#1a1a1a" stroke-width="0.8"/>
<text x="267.0" y="104.4" font-size="6.0" text-anchor="end">0</text>
<line x1="270.35" y1="85.65" x2="273.75" y2="85.65" stroke="#1a1a1a" stroke-width="0.8"/>
<text x="267.0" y="87.80000000000001" font-size="6.0" text-anchor="end">2000</text>
<line x1="270.35" y1="69.05" x2="273.75" y2="69.05" stroke="#1a1a1a" stroke-width="0.8"/>
<text x="267.0" y="71.2" font-size="6.0" text-anchor="end">4000</text>
<line x1="270.35" y1="52.45" x2="273.75" y2="52.45" stroke="#1a1a1a" stroke-width="0.8"/>
<text x="267.0" y="54.599999999999994" font-size="6.0" text-anchor="end">6000</text>
<line x1="270.35" y1="35.85" x2="273.75" y2="35.85" stroke="#1a1a1a" stroke-width="0.8"/>
<text x="267.0" y="37.99999999999999" font-size="6.0" text-anchor="end">8000</text>
<line x1="291.20" y1="102.25" x2="291.20" y2="105.25" stroke="#1a1a1a" stroke-width="0.8"/>
<line x1="318.00" y1="102.25" x2="318.00" y2="105.25" stroke="#1a1a1a" stroke-width="0.8"/>
<text x="283.8" y="22.9" font-size="8.3" textLength="41.5" lengthAdjust="spacingAndGlyphs" stroke-width="0.3">Class I MHC</text>
<text transform="translate(247.5 95.3) rotate(-90)" font-size="8.3" textLength="60.3" lengthAdjust="spacingAndGlyphs" stroke-width="0.3">Unique peptides</text>
<line x1="290.90" y1="36.60" x2="318.00" y2="34.50" stroke="#B02A3D" stroke-width="1.05"/>
<path d="M290.90 34.60L292.90 38.00L288.90 38.00Z" fill="#A8243A"/>
<path d="M318.00 32.50L320.00 35.90L316.00 35.90Z" fill="#A8243A"/>
<line x1="291.20" y1="82.30" x2="318.10" y2="58.00" stroke="#2B4A80" stroke-width="1.05"/>
<circle cx="291.20" cy="82.30" r="1.55" fill="#284A84"/>
<circle cx="318.10" cy="58.00" r="1.55" fill="#284A84"/>
<line x1="310.00" y1="90.10" x2="314.60" y2="90.10" stroke="#2E5088" stroke-width="0.8"/>
<circle cx="312.30" cy="90.1" r="1.15" fill="#284A84"/>
<line x1="310.00" y1="97.00" x2="314.60" y2="97.00" stroke="#B02A3D" stroke-width="0.8"/>
<path d="M312.30 95.5L313.80 98.1L310.80 98.1Z" fill="#A8243A"/>
<text x="317.2" y="91.9" font-size="5.0" textLength="17.8" lengthAdjust="spacingAndGlyphs">MCL052</text>
<text x="317.2" y="98.8" font-size="5.0" textLength="17.8" lengthAdjust="spacingAndGlyphs">MCL065</text>
<text x="273.1" y="114.0" font-size="6.3" textLength="35.6" lengthAdjust="spacingAndGlyphs">Unstimulated</text>
<text x="315.4" y="114.0" font-size="6.3" textLength="10.9" lengthAdjust="spacingAndGlyphs">CpG</text>
<line x1="386.60" y1="24.30" x2="386.60" y2="102.80" stroke="#151515" stroke-width="1.1"/>
<line x1="386.05" y1="102.25" x2="449.00" y2="102.25" stroke="#151515" stroke-width="1.1"/>
<line x1="383.20" y1="102.25" x2="386.60" y2="102.25" stroke="#1a1a1a" stroke-width="0.8"/>
<text x="379.8" y="104.4" font-size="6.0" text-anchor="end">0</text>
<line x1="383.20" y1="83.55" x2="386.60" y2="83.55" stroke="#1a1a1a" stroke-width="0.8"/>
<text x="379.8" y="85.7" font-size="6.0" text-anchor="end">2000</text>
<line x1="383.20" y1="64.85" x2="386.60" y2="64.85" stroke="#1a1a1a" stroke-width="0.8"/>
<text x="379.8" y="67.0" font-size="6.0" text-anchor="end">4000</text>
<line x1="383.20" y1="46.15" x2="386.60" y2="46.15" stroke="#1a1a1a" stroke-width="0.8"/>
<text x="379.8" y="48.300000000000004" font-size="6.0" text-anchor="end">6000</text>
<line x1="383.20" y1="27.45" x2="386.60" y2="27.45" stroke="#1a1a1a" stroke-width="0.8"/>
<text x="379.8" y="29.6" font-size="6.0" text-anchor="end">8000</text>
<line x1="404.10" y1="102.25" x2="404.10" y2="105.25" stroke="#1a1a1a" stroke-width="0.8"/>
<line x1="431.20" y1="102.25" x2="431.20" y2="105.25" stroke="#1a1a1a" stroke-width="0.8"/>
<text x="395.7" y="22.9" font-size="8.3" textLength="43.3" lengthAdjust="spacingAndGlyphs" stroke-width="0.3">Class II MHC</text>
<text transform="translate(360.6 93.6) rotate(-90)" font-size="8.3" textLength="59.99999999999999" lengthAdjust="spacingAndGlyphs" stroke-width="0.3">Unique peptides</text>
<line x1="404.00" y1="48.80" x2="431.20" y2="35.90" stroke="#B02A3D" stroke-width="1.05"/>
<path d="M404.00 46.80L406.00 50.20L402.00 50.20Z" fill="#A8243A"/>
<path d="M431.20 33.90L433.20 37.30L429.20 37.30Z" fill="#A8243A"/>
<line x1="404.10" y1="93.10" x2="431.20" y2="72.10" stroke="#2B4A80" stroke-width="1.05"/>
<circle cx="404.10" cy="93.10" r="1.55" fill="#284A84"/>
<circle cx="431.20" cy="72.10" r="1.55" fill="#284A84"/>
<line x1="423.00" y1="90.10" x2="427.60" y2="90.10" stroke="#2E5088" stroke-width="0.8"/>
<circle cx="425.30" cy="90.1" r="1.15" fill="#284A84"/>
<line x1="423.00" y1="97.00" x2="427.60" y2="97.00" stroke="#B02A3D" stroke-width="0.8"/>
<path d="M425.30 95.5L426.80 98.1L423.80 98.1Z" fill="#A8243A"/>
<text x="430.0" y="91.9" font-size="5.0" textLength="17.8" lengthAdjust="spacingAndGlyphs">MCL052</text>
<text x="430.0" y="98.8" font-size="5.0" textLength="17.8" lengthAdjust="spacingAndGlyphs">MCL065</text>
<text x="386.2" y="114.0" font-size="6.3" textLength="35.6" lengthAdjust="spacingAndGlyphs">Unstimulated</text>
<text x="428.2" y="114.0" font-size="6.3" textLength="10.9" lengthAdjust="spacingAndGlyphs">CpG</text>
<text x="28.1" y="148.5" font-size="8.3" textLength="123.6" lengthAdjust="spacingAndGlyphs" stroke-width="0.3">Immunoglobulin-derived antigens</text>
<line x1="39.10" y1="153.60" x2="39.10" y2="231.80" stroke="#151515" stroke-width="1.1"/>
<line x1="38.55" y1="231.25" x2="141.30" y2="231.25" stroke="#151515" stroke-width="1.1"/>
<line x1="35.80" y1="231.25" x2="39.00" y2="231.25" stroke="#1a1a1a" stroke-width="0.8"/>
<text x="33.2" y="233.4" font-size="6.0" text-anchor="end">0</text>
<line x1="35.80" y1="216.30" x2="39.00" y2="216.30" stroke="#1a1a1a" stroke-width="0.8"/>
<text x="33.2" y="218.45000000000002" font-size="6.0" text-anchor="end">100</text>
<line x1="35.80" y1="201.35" x2="39.00" y2="201.35" stroke="#1a1a1a" stroke-width="0.8"/>
<text x="33.2" y="203.5" font-size="6.0" text-anchor="end">200</text>
<line x1="35.80" y1="186.40" x2="39.00" y2="186.40" stroke="#1a1a1a" stroke-width="0.8"/>
<text x="33.2" y="188.55" font-size="6.0" text-anchor="end">300</text>
<line x1="35.80" y1="171.45" x2="39.00" y2="171.45" stroke="#1a1a1a" stroke-width="0.8"/>
<text x="33.2" y="173.6" font-size="6.0" text-anchor="end">400</text>
<line x1="35.80" y1="156.50" x2="39.00" y2="156.50" stroke="#1a1a1a" stroke-width="0.8"/>
<text x="33.2" y="158.65" font-size="6.0" text-anchor="end">500</text>
<text transform="translate(17.5 222.6) rotate(-90)" font-size="8.3" textLength="60.2" lengthAdjust="spacingAndGlyphs" stroke-width="0.3">Unique peptides</text>
<rect x="47.10" y="223.10" width="15.80" height="7.90" fill="#78AC5A"/>
<rect x="47.10" y="221.75" width="15.80" height="1.35" fill="#42608A"/>
<rect x="47.10" y="221.20" width="15.80" height="0.55" fill="#A93347"/>
<rect x="70.60" y="220.00" width="15.70" height="11.00" fill="#78AC5A"/>
<rect x="70.60" y="218.60" width="15.70" height="1.40" fill="#42608A"/>
<rect x="70.60" y="218.00" width="15.70" height="0.60" fill="#A93347"/>
<rect x="94.00" y="207.30" width="15.50" height="23.70" fill="#78AC5A"/>
<rect x="94.00" y="197.50" width="15.50" height="9.80" fill="#42608A"/>
<rect x="94.00" y="195.00" width="15.50" height="2.50" fill="#A93347"/>
<rect x="117.20" y="188.60" width="15.80" height="42.40" fill="#78AC5A"/>
<rect x="117.20" y="173.75" width="15.80" height="14.85" fill="#42608A"/>
<rect x="117.20" y="167.20" width="15.80" height="6.55" fill="#A93347"/>
<line x1="55.00" y1="231.25" x2="55.00" y2="234.30" stroke="#1a1a1a" stroke-width="0.8"/>
<line x1="78.40" y1="231.25" x2="78.40" y2="234.30" stroke="#1a1a1a" stroke-width="0.8"/>
<line x1="101.70" y1="231.25" x2="101.70" y2="234.30" stroke="#1a1a1a" stroke-width="0.8"/>
<line x1="125.00" y1="231.25" x2="125.00" y2="234.30" stroke="#1a1a1a" stroke-width="0.8"/>
<rect x="42.10" y="158.10" width="5.00" height="1.80" fill="#A93347"/>
<rect x="42.10" y="163.50" width="5.00" height="1.80" fill="#42608A"/>
<rect x="42.10" y="169.30" width="5.00" height="1.80" fill="#78AC5A"/>
<text x="50.0" y="160.8" font-size="5.2" textLength="64.6" lengthAdjust="spacingAndGlyphs">Variable region (neoantigen)</text>
<text x="50.0" y="166.5" font-size="5.2" textLength="58.5" lengthAdjust="spacingAndGlyphs">Variable region (germline)</text>
<text x="50.0" y="172.1" font-size="5.2" textLength="36.0" lengthAdjust="spacingAndGlyphs">Constant region</text>
<text transform="translate(57.2 237.7) rotate(-90)" font-size="6.3" text-anchor="end" textLength="36.2" lengthAdjust="spacingAndGlyphs">Unstimulated</text>
<text transform="translate(80.4 237.7) rotate(-90)" font-size="6.3" text-anchor="end" textLength="11.0" lengthAdjust="spacingAndGlyphs">CpG</text>
<text transform="translate(103.9 237.7) rotate(-90)" font-size="6.3" text-anchor="end" textLength="36.2" lengthAdjust="spacingAndGlyphs">Unstimulated</text>
<text transform="translate(127.0 237.7) rotate(-90)" font-size="6.3" text-anchor="end" textLength="11.0" lengthAdjust="spacingAndGlyphs">CpG</text>
<path d="M47.3 279.4V282.5H85.9V279.4" fill="none" stroke="#222" stroke-width="0.75"/>
<path d="M94.2 279.4V282.5H132.6V279.4" fill="none" stroke="#222" stroke-width="0.75"/>
<text x="58.2" y="291.4" font-size="6.0" textLength="16.8" lengthAdjust="spacingAndGlyphs">MHC-I</text>
<text x="104.2" y="291.4" font-size="6.0" textLength="18.3" lengthAdjust="spacingAndGlyphs">MHC-II</text>
<rect x="208.10" y="145.70" width="254.10" height="85.50" fill="none" stroke="#2a2a2a" stroke-width="1.15"/>
<line x1="205.30" y1="227.25" x2="208.10" y2="227.25" stroke="#2a2a2a" stroke-width="0.8"/>
<text x="202.2" y="229.4" font-size="6.0" text-anchor="end">ND</text>
<line x1="205.30" y1="209.65" x2="208.10" y2="209.65" stroke="#2a2a2a" stroke-width="0.8"/>
<text x="202.2" y="211.8" font-size="6.0" text-anchor="end">2</text>
<line x1="205.30" y1="192.05" x2="208.10" y2="192.05" stroke="#2a2a2a" stroke-width="0.8"/>
<text x="202.2" y="194.20000000000002" font-size="6.0" text-anchor="end">4</text>
<line x1="205.30" y1="174.45" x2="208.10" y2="174.45" stroke="#2a2a2a" stroke-width="0.8"/>
<text x="202.2" y="176.6" font-size="6.0" text-anchor="end">6</text>
<line x1="205.30" y1="156.85" x2="208.10" y2="156.85" stroke="#2a2a2a" stroke-width="0.8"/>
<text x="202.2" y="159.0" font-size="6.0" text-anchor="end">8</text>
<line x1="221.30" y1="231.20" x2="221.30" y2="233.90" stroke="#2a2a2a" stroke-width="0.8"/>
<line x1="244.05" y1="231.20" x2="244.05" y2="233.90" stroke="#2a2a2a" stroke-width="0.8"/>
<line x1="266.80" y1="231.20" x2="266.80" y2="233.90" stroke="#2a2a2a" stroke-width="0.8"/>
<line x1="289.55" y1="231.20" x2="289.55" y2="233.90" stroke="#2a2a2a" stroke-width="0.8"/>
<line x1="312.30" y1="231.20" x2="312.30" y2="233.90" stroke="#2a2a2a" stroke-width="0.8"/>
<line x1="335.05" y1="231.20" x2="335.05" y2="233.90" stroke="#2a2a2a" stroke-width="0.8"/>
<line x1="357.80" y1="231.20" x2="357.80" y2="233.90" stroke="#2a2a2a" stroke-width="0.8"/>
<line x1="380.55" y1="231.20" x2="380.55" y2="233.90" stroke="#2a2a2a" stroke-width="0.8"/>
<line x1="403.30" y1="231.20" x2="403.30" y2="233.90" stroke="#2a2a2a" stroke-width="0.8"/>
<line x1="426.05" y1="231.20" x2="426.05" y2="233.90" stroke="#2a2a2a" stroke-width="0.8"/>
<line x1="448.80" y1="231.20" x2="448.80" y2="233.90" stroke="#2a2a2a" stroke-width="0.8"/>
<text transform="translate(184.0 227.1) rotate(-90)" font-size="8.4" textLength="11.6" lengthAdjust="spacingAndGlyphs" stroke-width="0.3">log</text>
<text transform="translate(187.2 215.5) rotate(-90)" font-size="5.6" textLength="5.3" lengthAdjust="spacingAndGlyphs">10</text>
<text transform="translate(184.0 210.2) rotate(-90)" font-size="8.4" textLength="44.9" lengthAdjust="spacingAndGlyphs" stroke-width="0.3">(abundance</text>
<text transform="translate(186.9 163.6) rotate(-90)" font-size="5.0" textLength="10.0" lengthAdjust="spacingAndGlyphs">NPA</text>
<text transform="translate(183.8 153.4) rotate(-90)" font-size="7.4" textLength="2.8" lengthAdjust="spacingAndGlyphs">)</text>
<path d="M221.55 150.60C221.58 151.93 221.44 155.59 221.70 158.00C221.96 160.41 222.39 162.02 223.00 164.00C223.61 165.98 224.47 167.38 225.10 169.00C225.73 170.62 226.19 171.81 226.50 173.00C226.81 174.19 226.85 174.70 226.85 175.60C226.85 176.50 226.71 177.14 226.50 178.00C226.29 178.86 226.11 179.32 225.70 180.40C225.29 181.48 224.70 182.63 224.20 184.00C223.70 185.37 223.33 186.25 222.90 188.00C222.47 189.75 222.03 190.64 221.80 193.70C221.57 196.76 221.62 201.17 221.60 205.00C221.58 208.83 221.50 212.57 221.70 215.00C221.90 217.43 222.14 217.42 222.70 218.50C223.26 219.58 223.72 220.01 224.80 221.00C225.88 221.99 227.53 223.06 228.70 224.00C229.87 224.94 230.72 225.61 231.30 226.20C231.88 226.78 231.79 227.06 231.90 227.25L211.10 227.25C211.21 227.06 211.12 226.78 211.70 226.20C212.28 225.61 213.13 224.94 214.30 224.00C215.47 223.06 217.12 221.99 218.20 221.00C219.28 220.01 219.74 219.58 220.30 218.50C220.86 217.42 221.10 217.43 221.30 215.00C221.50 212.57 221.42 208.83 221.40 205.00C221.38 201.17 221.43 196.76 221.20 193.70C220.97 190.64 220.53 189.75 220.10 188.00C219.67 186.25 219.30 185.37 218.80 184.00C218.30 182.63 217.71 181.48 217.30 180.40C216.89 179.32 216.71 178.86 216.50 178.00C216.29 177.14 216.15 176.50 216.15 175.60C216.15 174.70 216.19 174.19 216.50 173.00C216.81 171.81 217.27 170.62 217.90 169.00C218.53 167.38 219.39 165.98 220.00 164.00C220.61 162.02 221.04 160.41 221.30 158.00C221.56 155.59 221.42 151.93 221.45 150.60Z" fill="#43618C" stroke="#222222" stroke-width="0.5" stroke-linejoin="round"/>
<line x1="217.40" y1="180.40" x2="225.60" y2="180.40" stroke="#151515" stroke-width="0.7"/>
<path d="M244.45 149.40C244.47 150.59 244.42 154.00 244.55 156.00C244.69 158.00 244.69 158.88 245.20 160.50C245.71 162.12 246.54 163.47 247.40 165.00C248.26 166.53 249.03 167.56 250.00 169.00C250.97 170.44 252.03 171.83 252.80 173.00C253.57 174.17 253.96 174.80 254.30 175.50C254.64 176.20 254.68 176.41 254.70 176.90C254.72 177.39 254.81 177.46 254.40 178.20C253.99 178.94 253.26 179.78 252.40 181.00C251.54 182.22 250.50 183.56 249.60 185.00C248.70 186.44 248.08 187.56 247.40 189.00C246.72 190.44 246.28 191.47 245.80 193.00C245.32 194.53 244.98 194.44 244.75 197.50C244.52 200.56 244.51 206.13 244.50 210.00C244.49 213.87 244.45 216.93 244.70 219.00C244.95 221.07 245.31 220.69 245.90 221.50C246.49 222.31 247.19 222.82 248.00 223.50C248.81 224.18 249.64 224.74 250.40 225.30C251.16 225.86 251.80 226.25 252.20 226.60C252.60 226.95 252.53 227.13 252.60 227.25L236.20 227.25C236.27 227.13 236.20 226.95 236.60 226.60C237.00 226.25 237.64 225.86 238.40 225.30C239.16 224.74 239.99 224.18 240.80 223.50C241.61 222.82 242.31 222.31 242.90 221.50C243.49 220.69 243.85 221.07 244.10 219.00C244.35 216.93 244.31 213.87 244.30 210.00C244.29 206.13 244.28 200.56 244.05 197.50C243.82 194.44 243.48 194.53 243.00 193.00C242.52 191.47 242.08 190.44 241.40 189.00C240.72 187.56 240.10 186.44 239.20 185.00C238.30 183.56 237.26 182.22 236.40 181.00C235.54 179.78 234.81 178.94 234.40 178.20C233.99 177.46 234.08 177.39 234.10 176.90C234.12 176.41 234.16 176.20 234.50 175.50C234.84 174.80 235.23 174.17 236.00 173.00C236.77 171.83 237.83 170.44 238.80 169.00C239.77 167.56 240.54 166.53 241.40 165.00C242.26 163.47 243.09 162.12 243.60 160.50C244.11 158.88 244.12 158.00 244.25 156.00C244.38 154.00 244.33 150.59 244.35 149.40Z" fill="#DE983C" stroke="#222222" stroke-width="0.5" stroke-linejoin="round"/>
<line x1="234.80" y1="179.10" x2="254.00" y2="179.10" stroke="#151515" stroke-width="0.8"/>
<path d="M290.95 166.90C290.94 167.46 290.95 168.36 290.90 170.00C290.85 171.64 290.78 173.66 290.65 176.00C290.52 178.34 290.35 180.48 290.20 183.00C290.05 185.52 289.88 186.94 289.80 190.00C289.72 193.06 289.71 197.08 289.75 200.00C289.79 202.92 289.74 204.40 290.00 206.20C290.26 208.00 290.62 208.64 291.20 210.00C291.78 211.36 292.48 212.40 293.20 213.75C293.92 215.10 294.61 216.33 295.20 217.50C295.79 218.67 295.96 219.24 296.50 220.25C297.04 221.26 297.68 222.19 298.20 223.10C298.72 224.01 299.11 224.69 299.40 225.30C299.69 225.91 299.76 226.15 299.80 226.50C299.84 226.85 299.64 227.12 299.60 227.25L279.60 227.25C279.56 227.12 279.36 226.85 279.40 226.50C279.44 226.15 279.51 225.91 279.80 225.30C280.09 224.69 280.48 224.01 281.00 223.10C281.52 222.19 282.16 221.26 282.70 220.25C283.24 219.24 283.41 218.67 284.00 217.50C284.59 216.33 285.28 215.10 286.00 213.75C286.72 212.40 287.42 211.36 288.00 210.00C288.58 208.64 288.94 208.00 289.20 206.20C289.46 204.40 289.41 202.92 289.45 200.00C289.49 197.08 289.48 193.06 289.40 190.00C289.32 186.94 289.15 185.52 289.00 183.00C288.85 180.48 288.68 178.34 288.55 176.00C288.42 173.66 288.35 171.64 288.30 170.00C288.25 168.36 288.26 167.46 288.25 166.90Z" fill="#43618C" stroke="#222222" stroke-width="0.5" stroke-linejoin="round"/>
<line x1="282.80" y1="220.25" x2="296.40" y2="220.25" stroke="#151515" stroke-width="0.8"/>
<path d="M319.90 164.40C320.06 164.69 320.37 164.99 320.80 166.00C321.23 167.01 321.92 168.38 322.30 170.00C322.68 171.62 322.90 173.20 322.90 175.00C322.90 176.80 322.71 178.20 322.30 180.00C321.89 181.80 321.30 183.20 320.60 185.00C319.90 186.80 319.12 188.20 318.40 190.00C317.68 191.80 317.14 193.20 316.60 195.00C316.06 196.80 315.73 198.09 315.40 200.00C315.07 201.91 314.77 203.80 314.75 205.60C314.73 207.40 314.95 208.31 315.30 210.00C315.65 211.69 316.14 213.20 316.70 215.00C317.26 216.80 317.86 218.38 318.40 220.00C318.94 221.62 319.32 222.69 319.70 224.00C320.08 225.31 320.36 226.66 320.50 227.25L304.50 227.25C304.64 226.66 304.92 225.31 305.30 224.00C305.68 222.69 306.06 221.62 306.60 220.00C307.14 218.38 307.74 216.80 308.30 215.00C308.86 213.20 309.35 211.69 309.70 210.00C310.05 208.31 310.27 207.40 310.25 205.60C310.23 203.80 309.93 201.91 309.60 200.00C309.27 198.09 308.94 196.80 308.40 195.00C307.86 193.20 307.32 191.80 306.60 190.00C305.88 188.20 305.10 186.80 304.40 185.00C303.70 183.20 303.11 181.80 302.70 180.00C302.29 178.20 302.10 176.80 302.10 175.00C302.10 173.20 302.32 171.62 302.70 170.00C303.08 168.38 303.77 167.01 304.20 166.00C304.63 164.99 304.94 164.69 305.10 164.40Z" fill="#DE983C" stroke="#222222" stroke-width="0.5" stroke-linejoin="round"/>
<line x1="304.40" y1="185.00" x2="320.60" y2="185.00" stroke="#151515" stroke-width="0.8"/>
<path d="M361.80 158.40C361.93 158.87 362.28 159.99 362.50 161.00C362.72 162.01 362.89 163.05 363.00 164.00C363.11 164.95 363.14 165.22 363.10 166.30C363.06 167.38 363.02 168.43 362.80 170.00C362.58 171.57 362.24 173.20 361.90 175.00C361.56 176.80 361.28 178.02 360.90 180.00C360.52 181.98 360.16 183.84 359.80 186.00C359.44 188.16 359.13 190.02 358.90 192.00C358.67 193.98 358.59 195.11 358.50 197.00C358.41 198.89 358.36 200.88 358.40 202.50C358.44 204.12 358.39 204.83 358.70 206.00C359.01 207.17 359.45 207.74 360.10 209.00C360.75 210.26 361.54 211.56 362.30 213.00C363.06 214.44 363.62 215.56 364.30 217.00C364.98 218.44 365.51 219.65 366.10 221.00C366.69 222.35 367.20 223.38 367.60 224.50C368.00 225.62 368.17 226.75 368.30 227.25L347.90 227.25C348.03 226.75 348.20 225.62 348.60 224.50C349.00 223.38 349.51 222.35 350.10 221.00C350.69 219.65 351.22 218.44 351.90 217.00C352.58 215.56 353.14 214.44 353.90 213.00C354.66 211.56 355.45 210.26 356.10 209.00C356.75 207.74 357.19 207.17 357.50 206.00C357.81 204.83 357.76 204.12 357.80 202.50C357.84 200.88 357.79 198.89 357.70 197.00C357.61 195.11 357.53 193.98 357.30 192.00C357.07 190.02 356.76 188.16 356.40 186.00C356.04 183.84 355.68 181.98 355.30 180.00C354.92 178.02 354.64 176.80 354.30 175.00C353.96 173.20 353.62 171.57 353.40 170.00C353.18 168.43 353.14 167.38 353.10 166.30C353.06 165.22 353.09 164.95 353.20 164.00C353.31 163.05 353.48 162.01 353.70 161.00C353.92 159.99 354.27 158.87 354.40 158.40Z" fill="#43618C" stroke="#222222" stroke-width="0.5" stroke-linejoin="round"/>
<line x1="357.20" y1="207.90" x2="359.00" y2="207.90" stroke="#151515" stroke-width="0.7"/>
<path d="M385.30 159.00C385.57 159.45 386.15 160.42 386.80 161.50C387.45 162.58 388.23 163.74 388.90 165.00C389.57 166.26 390.12 167.37 390.50 168.50C390.88 169.63 390.95 170.31 391.00 171.30C391.05 172.29 391.00 172.88 390.80 174.00C390.60 175.12 390.37 176.24 389.90 177.50C389.43 178.76 388.87 179.65 388.20 181.00C387.53 182.35 386.87 183.56 386.20 185.00C385.53 186.44 385.04 187.56 384.50 189.00C383.96 190.44 383.63 191.56 383.20 193.00C382.77 194.44 382.46 195.56 382.10 197.00C381.74 198.44 381.40 199.92 381.20 201.00C381.00 202.08 380.98 202.10 381.00 203.00C381.02 203.90 381.07 204.56 381.30 206.00C381.53 207.44 381.87 209.02 382.30 211.00C382.73 212.98 383.20 214.84 383.70 217.00C384.20 219.16 384.72 221.16 385.10 223.00C385.48 224.84 385.67 226.49 385.80 227.25L375.40 227.25C375.53 226.49 375.72 224.84 376.10 223.00C376.48 221.16 377.00 219.16 377.50 217.00C378.00 214.84 378.47 212.98 378.90 211.00C379.33 209.02 379.67 207.44 379.90 206.00C380.13 204.56 380.18 203.90 380.20 203.00C380.22 202.10 380.20 202.08 380.00 201.00C379.80 199.92 379.46 198.44 379.10 197.00C378.74 195.56 378.43 194.44 378.00 193.00C377.57 191.56 377.24 190.44 376.70 189.00C376.16 187.56 375.67 186.44 375.00 185.00C374.33 183.56 373.67 182.35 373.00 181.00C372.33 179.65 371.77 178.76 371.30 177.50C370.83 176.24 370.60 175.12 370.40 174.00C370.20 172.88 370.15 172.29 370.20 171.30C370.25 170.31 370.32 169.63 370.70 168.50C371.08 167.37 371.63 166.26 372.30 165.00C372.97 163.74 373.75 162.58 374.40 161.50C375.05 160.42 375.63 159.45 375.90 159.00Z" fill="#DE983C" stroke="#222222" stroke-width="0.5" stroke-linejoin="round"/>
<line x1="371.30" y1="177.50" x2="389.90" y2="177.50" stroke="#151515" stroke-width="1.3"/>
<path d="M428.80 156.25C429.05 156.75 429.61 157.78 430.20 159.00C430.79 160.22 431.52 161.56 432.10 163.00C432.68 164.44 433.06 165.51 433.40 167.00C433.74 168.49 433.96 169.86 434.00 171.30C434.04 172.74 434.01 173.36 433.60 175.00C433.19 176.64 432.35 178.60 431.70 180.40C431.05 182.20 430.58 183.27 430.00 185.00C429.42 186.73 428.99 188.20 428.50 190.00C428.01 191.80 427.62 193.38 427.30 195.00C426.98 196.62 426.83 197.83 426.70 199.00C426.57 200.17 426.56 200.42 426.60 201.50C426.64 202.58 426.65 203.65 426.90 205.00C427.15 206.35 427.46 207.56 428.00 209.00C428.54 210.44 429.18 211.56 429.90 213.00C430.62 214.44 431.26 215.56 432.00 217.00C432.74 218.44 433.35 219.65 434.00 221.00C434.65 222.35 435.17 223.38 435.60 224.50C436.03 225.62 436.26 226.75 436.40 227.25L415.60 227.25C415.74 226.75 415.97 225.62 416.40 224.50C416.83 223.38 417.35 222.35 418.00 221.00C418.65 219.65 419.26 218.44 420.00 217.00C420.74 215.56 421.38 214.44 422.10 213.00C422.82 211.56 423.46 210.44 424.00 209.00C424.54 207.56 424.85 206.35 425.10 205.00C425.35 203.65 425.36 202.58 425.40 201.50C425.44 200.42 425.43 200.17 425.30 199.00C425.17 197.83 425.02 196.62 424.70 195.00C424.38 193.38 423.99 191.80 423.50 190.00C423.01 188.20 422.58 186.73 422.00 185.00C421.42 183.27 420.95 182.20 420.30 180.40C419.65 178.60 418.81 176.64 418.40 175.00C417.99 173.36 417.96 172.74 418.00 171.30C418.04 169.86 418.26 168.49 418.60 167.00C418.94 165.51 419.32 164.44 419.90 163.00C420.48 161.56 421.21 160.22 421.80 159.00C422.39 157.78 422.95 156.75 423.20 156.25Z" fill="#43618C" stroke="#222222" stroke-width="0.5" stroke-linejoin="round"/>
<line x1="420.30" y1="180.40" x2="431.70" y2="180.40" stroke="#151515" stroke-width="0.8"/>
<path d="M449.15 156.00C449.21 156.72 449.06 158.56 449.50 160.00C449.94 161.44 450.74 162.56 451.60 164.00C452.46 165.44 453.33 166.56 454.30 168.00C455.27 169.44 456.17 170.74 457.00 172.00C457.83 173.26 458.45 174.23 458.90 175.00C459.35 175.77 459.50 175.80 459.50 176.30C459.50 176.80 459.53 176.95 458.90 177.80C458.27 178.65 457.10 179.70 456.00 181.00C454.90 182.30 453.79 183.56 452.80 185.00C451.81 186.44 451.15 187.65 450.50 189.00C449.85 190.35 449.46 189.62 449.20 192.50C448.94 195.38 449.10 200.05 449.08 205.00C449.06 209.95 449.01 217.03 449.10 220.00C449.19 222.97 449.17 220.78 449.60 221.50C450.03 222.22 450.83 223.14 451.50 224.00C452.17 224.86 452.90 225.72 453.30 226.30C453.70 226.89 453.63 227.08 453.70 227.25L444.30 227.25C444.37 227.08 444.30 226.89 444.70 226.30C445.10 225.72 445.83 224.86 446.50 224.00C447.17 223.14 447.97 222.22 448.40 221.50C448.83 220.78 448.81 222.97 448.90 220.00C448.99 217.03 448.94 209.95 448.92 205.00C448.90 200.05 449.06 195.38 448.80 192.50C448.54 189.62 448.15 190.35 447.50 189.00C446.85 187.65 446.19 186.44 445.20 185.00C444.21 183.56 443.10 182.30 442.00 181.00C440.90 179.70 439.73 178.65 439.10 177.80C438.47 176.95 438.50 176.80 438.50 176.30C438.50 175.80 438.65 175.77 439.10 175.00C439.55 174.23 440.17 173.26 441.00 172.00C441.83 170.74 442.73 169.44 443.70 168.00C444.67 166.56 445.54 165.44 446.40 164.00C447.26 162.56 448.06 161.44 448.50 160.00C448.94 158.56 448.79 156.72 448.85 156.00Z" fill="#DE983C" stroke="#222222" stroke-width="0.5" stroke-linejoin="round"/>
<line x1="438.60" y1="176.40" x2="459.40" y2="176.40" stroke="#151515" stroke-width="0.8"/>
<text x="224.25" y="242.6" font-size="5.8" textLength="17.5" lengthAdjust="spacingAndGlyphs">Non-Ig</text>
<text x="221.35" y="250.8" font-size="5.8" textLength="23.3" lengthAdjust="spacingAndGlyphs">Peptides</text>
<text x="282.5" y="242.6" font-size="5.8" textLength="37.0" lengthAdjust="spacingAndGlyphs">Ig-neoantigen</text>
<text x="289.35" y="250.8" font-size="5.8" textLength="23.3" lengthAdjust="spacingAndGlyphs">Peptides</text>
<text x="345.8" y="242.6" font-size="5.8" textLength="47.0" lengthAdjust="spacingAndGlyphs">Ig-variable region</text>
<text x="345.6" y="250.7" font-size="5.8" textLength="47.4" lengthAdjust="spacingAndGlyphs">(non-neoantigen)</text>
<text x="357.5" y="258.8" font-size="5.8" textLength="23.6" lengthAdjust="spacingAndGlyphs">Peptides</text>
<text x="412.5" y="242.6" font-size="5.8" textLength="49.0" lengthAdjust="spacingAndGlyphs">Ig-constant region</text>
<text x="425.65000000000003" y="250.8" font-size="5.8" textLength="23.3" lengthAdjust="spacingAndGlyphs">Peptides</text>
<rect x="473.10" y="169.00" width="5.90" height="5.80" fill="#43618C"/>
<rect x="473.10" y="177.90" width="5.90" height="5.80" fill="#DE983C"/>
<line x1="473.10" y1="188.80" x2="479.00" y2="188.80" stroke="#454545" stroke-width="1.45"/>
<text x="482.2" y="173.8" font-size="5.3" textLength="25.5" lengthAdjust="spacingAndGlyphs">Not treated</text>
<text x="482.2" y="182.5" font-size="5.3" textLength="26.8" lengthAdjust="spacingAndGlyphs">CpG treated</text>
<text x="482.2" y="190.5" font-size="5.3" textLength="16.8" lengthAdjust="spacingAndGlyphs">median</text>
<text x="100.0" y="313.5" font-size="6.2" textLength="41.2" lengthAdjust="spacingAndGlyphs">MCL052 (IGHV)</text>
<text x="18.1" y="330.6" font-size="6.1" textLength="16.3" lengthAdjust="spacingAndGlyphs">MHC-I</text>
<text x="18.1" y="356.0" font-size="6.1" textLength="18.1" lengthAdjust="spacingAndGlyphs">MHC-II</text>
<line x1="41.2" y1="327.6" x2="225.2" y2="327.6" stroke="#222" stroke-width="1.0" stroke-dasharray="3.3 2.1"/>
<rect x="159.00" y="322.00" width="21.20" height="1.95" fill="#42608B" stroke="#2f4a72" stroke-width="0.42"/>
<rect x="159.00" y="324.30" width="22.40" height="1.95" fill="#42608B" stroke="#2f4a72" stroke-width="0.42"/>
<rect x="157.40" y="328.80" width="24.60" height="2.05" fill="#C4C1BF" stroke="#7b7978" stroke-width="0.42"/>
<rect x="169.70" y="331.20" width="15.50" height="1.95" fill="#C4C1BF" stroke="#7b7978" stroke-width="0.42"/>
<rect x="170.00" y="333.50" width="16.90" height="1.95" fill="#C4C1BF" stroke="#7b7978" stroke-width="0.42"/>
<rect x="189.6" y="334.7" width="35.8" height="4.75" rx="8" ry="2.37" fill="#A52A41"/>
<rect x="14.55" y="339.75" width="210.90" height="8.70" fill="#ECE9E9" stroke="#3a3a3a" stroke-width="0.9"/>
<rect x="78.75" y="340.20" width="12.15" height="7.80" fill="#7d7d7d"/>
<rect x="117.10" y="340.20" width="12.90" height="7.80" fill="#7d7d7d"/>
<rect x="190.00" y="340.20" width="35.80" height="7.80" fill="#8d8d8d"/>
<rect x="14.55" y="339.75" width="210.90" height="8.70" fill="none" stroke="#3a3a3a" stroke-width="0.9"/>
<text x="42.5" y="346.0" font-size="5.2" textLength="7.6" lengthAdjust="spacingAndGlyphs" fill="#333">FR1</text>
<text x="79.5" y="346.0" font-size="5.2" textLength="10.6" lengthAdjust="spacingAndGlyphs" fill="#333">CDR1</text>
<text x="100.0" y="346.0" font-size="5.2" textLength="7.6" lengthAdjust="spacingAndGlyphs" fill="#333">FR2</text>
<text x="118.2" y="346.0" font-size="5.2" textLength="10.6" lengthAdjust="spacingAndGlyphs" fill="#333">CDR2</text>
<text x="156.2" y="346.0" font-size="5.2" textLength="7.6" lengthAdjust="spacingAndGlyphs" fill="#333">FR3</text>
<text x="202.29999999999998" y="346.0" font-size="5.2" textLength="10.6" lengthAdjust="spacingAndGlyphs" fill="#333">CDR3</text>
<rect x="112.30" y="350.50" width="20.50" height="2.15" fill="#C4C1BF" stroke="#7b7978" stroke-width="0.42"/>
<rect x="122.30" y="353.30" width="24.60" height="2.05" fill="#C4C1BF" stroke="#7b7978" stroke-width="0.42"/>
<text x="28.7" y="374.7" font-size="6.2" textLength="95.8" lengthAdjust="spacingAndGlyphs">Both untreated and CpG stimulated</text>
<rect x="150.00" y="355.50" width="31.90" height="1.86" fill="#C4C1BF" stroke="#7b7978" stroke-width="0.42"/>
<rect x="151.25" y="357.71" width="30.00" height="1.86" fill="#C4C1BF" stroke="#7b7978" stroke-width="0.42"/>
<rect x="151.25" y="359.92" width="30.65" height="1.86" fill="#C4C1BF" stroke="#7b7978" stroke-width="0.42"/>
<rect x="154.40" y="362.13" width="26.20" height="1.86" fill="#C4C1BF" stroke="#7b7978" stroke-width="0.42"/>
<rect x="154.40" y="364.34" width="27.50" height="1.86" fill="#C4C1BF" stroke="#7b7978" stroke-width="0.42"/>
<rect x="156.25" y="366.55" width="22.50" height="1.86" fill="#C4C1BF" stroke="#7b7978" stroke-width="0.42"/>
<rect x="156.00" y="368.76" width="24.60" height="1.86" fill="#C4C1BF" stroke="#7b7978" stroke-width="0.42"/>
<rect x="156.00" y="370.97" width="25.90" height="1.86" fill="#C4C1BF" stroke="#7b7978" stroke-width="0.42"/>
<rect x="157.50" y="373.18" width="21.90" height="1.86" fill="#C4C1BF" stroke="#7b7978" stroke-width="0.42"/>
<rect x="157.50" y="375.39" width="23.10" height="1.86" fill="#C4C1BF" stroke="#7b7978" stroke-width="0.42"/>
<rect x="157.50" y="377.60" width="24.40" height="1.86" fill="#C4C1BF" stroke="#7b7978" stroke-width="0.42"/>
<rect x="159.40" y="379.81" width="18.70" height="1.86" fill="#C4C1BF" stroke="#7b7978" stroke-width="0.42"/>
<rect x="159.40" y="382.02" width="20.60" height="1.86" fill="#C4C1BF" stroke="#7b7978" stroke-width="0.42"/>
<rect x="159.40" y="384.23" width="22.50" height="1.86" fill="#C4C1BF" stroke="#7b7978" stroke-width="0.42"/>
<rect x="162.50" y="386.44" width="18.10" height="1.86" fill="#C4C1BF" stroke="#7b7978" stroke-width="0.42"/>
<rect x="162.50" y="388.65" width="19.40" height="1.86" fill="#C4C1BF" stroke="#7b7978" stroke-width="0.42"/>
<rect x="175.00" y="390.86" width="15.00" height="1.86" fill="#C4C1BF" stroke="#7b7978" stroke-width="0.42"/>
<rect x="190.00" y="390.86" width="8.75" height="1.86" fill="#A52A41" stroke="#6b1626" stroke-width="0.42"/>
<rect x="175.00" y="393.07" width="15.00" height="1.86" fill="#C4C1BF" stroke="#7b7978" stroke-width="0.42"/>
<rect x="190.00" y="393.07" width="10.60" height="1.86" fill="#A52A41" stroke="#6b1626" stroke-width="0.42"/>
<rect x="176.90" y="395.28" width="13.10" height="1.86" fill="#C4C1BF" stroke="#7b7978" stroke-width="0.42"/>
<rect x="190.00" y="395.28" width="8.75" height="1.86" fill="#A52A41" stroke="#6b1626" stroke-width="0.42"/>
<rect x="177.50" y="397.49" width="12.50" height="1.86" fill="#C4C1BF" stroke="#7b7978" stroke-width="0.42"/>
<rect x="190.00" y="397.49" width="8.75" height="1.86" fill="#A52A41" stroke="#6b1626" stroke-width="0.42"/>
<rect x="193.00" y="399.70" width="26.00" height="1.86" fill="#A52A41" stroke="#6b1626" stroke-width="0.42"/>
<line x1="60.5" y1="403.3" x2="225.2" y2="403.3" stroke="#222" stroke-width="1.0" stroke-dasharray="3.3 2.1"/>
<line x1="60.5" y1="412.4" x2="225.2" y2="412.4" stroke="#222" stroke-width="1.0" stroke-dasharray="3.3 2.1"/>
<text x="11.2" y="408.8" font-size="6.2" textLength="48.3" lengthAdjust="spacingAndGlyphs">Only by untreated</text>
<rect x="148.20" y="404.20" width="34.20" height="1.85" fill="#42608B" stroke="#2f4a72" stroke-width="0.42"/>
<rect x="150.20" y="406.40" width="31.00" height="1.85" fill="#42608B" stroke="#2f4a72" stroke-width="0.42"/>
<rect x="159.30" y="408.60" width="18.20" height="1.85" fill="#42608B" stroke="#2f4a72" stroke-width="0.42"/>
<rect x="111.25" y="414.20" width="26.25" height="1.90" fill="#E09A3A" stroke="#A8691a" stroke-width="0.42"/>
<rect x="113.10" y="416.45" width="18.15" height="1.90" fill="#E09A3A" stroke="#A8691a" stroke-width="0.42"/>
<rect x="113.10" y="418.70" width="24.40" height="1.90" fill="#E09A3A" stroke="#A8691a" stroke-width="0.42"/>
<rect x="113.10" y="420.95" width="27.50" height="1.90" fill="#E09A3A" stroke="#A8691a" stroke-width="0.42"/>
<rect x="114.75" y="423.20" width="22.75" height="1.90" fill="#E09A3A" stroke="#A8691a" stroke-width="0.42"/>
<rect x="118.75" y="425.45" width="28.15" height="1.90" fill="#E09A3A" stroke="#A8691a" stroke-width="0.42"/>
<rect x="120.60" y="427.70" width="26.30" height="1.90" fill="#E09A3A" stroke="#A8691a" stroke-width="0.42"/>
<rect x="123.75" y="429.95" width="23.15" height="1.90" fill="#E09A3A" stroke="#A8691a" stroke-width="0.42"/>
<text x="23.7" y="448.0" font-size="6.2" textLength="64.3" lengthAdjust="spacingAndGlyphs">Only by CpG stimulated</text>
<rect x="151.25" y="431.70" width="32.50" height="1.90" fill="#E09A3A" stroke="#A8691a" stroke-width="0.42"/>
<rect x="154.00" y="433.95" width="29.75" height="1.90" fill="#E09A3A" stroke="#A8691a" stroke-width="0.42"/>
<rect x="156.90" y="436.20" width="21.85" height="1.90" fill="#E09A3A" stroke="#A8691a" stroke-width="0.42"/>
<rect x="160.60" y="438.45" width="21.30" height="1.90" fill="#E09A3A" stroke="#A8691a" stroke-width="0.42"/>
<rect x="170.00" y="440.70" width="16.90" height="1.90" fill="#E09A3A" stroke="#A8691a" stroke-width="0.42"/>
<rect x="173.10" y="442.95" width="16.90" height="1.90" fill="#E09A3A" stroke="#A8691a" stroke-width="0.42"/>
<rect x="190.00" y="442.95" width="5.60" height="1.90" fill="#A52A41" stroke="#6b1626" stroke-width="0.42"/>
<rect x="174.40" y="445.20" width="15.60" height="1.90" fill="#E09A3A" stroke="#A8691a" stroke-width="0.42"/>
<rect x="190.00" y="445.20" width="5.60" height="1.90" fill="#A52A41" stroke="#6b1626" stroke-width="0.42"/>
<rect x="174.40" y="447.45" width="15.60" height="1.90" fill="#E09A3A" stroke="#A8691a" stroke-width="0.42"/>
<rect x="190.00" y="447.45" width="13.75" height="1.90" fill="#A52A41" stroke="#6b1626" stroke-width="0.42"/>
<rect x="176.25" y="449.70" width="13.75" height="1.90" fill="#E09A3A" stroke="#A8691a" stroke-width="0.42"/>
<rect x="190.00" y="449.70" width="5.60" height="1.90" fill="#A52A41" stroke="#6b1626" stroke-width="0.42"/>
<rect x="176.25" y="451.95" width="13.75" height="1.90" fill="#E09A3A" stroke="#A8691a" stroke-width="0.42"/>
<rect x="190.00" y="451.95" width="7.50" height="1.90" fill="#A52A41" stroke="#6b1626" stroke-width="0.42"/>
<rect x="176.25" y="454.20" width="13.75" height="1.90" fill="#E09A3A" stroke="#A8691a" stroke-width="0.42"/>
<rect x="190.00" y="454.20" width="10.60" height="1.90" fill="#A52A41" stroke="#6b1626" stroke-width="0.42"/>
<rect x="176.25" y="456.45" width="13.75" height="1.90" fill="#E09A3A" stroke="#A8691a" stroke-width="0.42"/>
<rect x="190.00" y="456.45" width="12.50" height="1.90" fill="#A52A41" stroke="#6b1626" stroke-width="0.42"/>
<rect x="176.25" y="458.70" width="13.75" height="1.90" fill="#E09A3A" stroke="#A8691a" stroke-width="0.42"/>
<rect x="190.00" y="458.70" width="13.75" height="1.90" fill="#A52A41" stroke="#6b1626" stroke-width="0.42"/>
<rect x="177.75" y="460.95" width="12.25" height="1.90" fill="#E09A3A" stroke="#A8691a" stroke-width="0.42"/>
<rect x="190.00" y="460.95" width="7.50" height="1.90" fill="#A52A41" stroke="#6b1626" stroke-width="0.42"/>
<rect x="177.75" y="463.20" width="12.25" height="1.90" fill="#E09A3A" stroke="#A8691a" stroke-width="0.42"/>
<rect x="190.00" y="463.20" width="10.60" height="1.90" fill="#A52A41" stroke="#6b1626" stroke-width="0.42"/>
<rect x="177.75" y="465.45" width="12.25" height="1.90" fill="#E09A3A" stroke="#A8691a" stroke-width="0.42"/>
<rect x="190.00" y="465.45" width="13.75" height="1.90" fill="#A52A41" stroke="#6b1626" stroke-width="0.42"/>
<rect x="179.40" y="467.70" width="10.60" height="1.90" fill="#E09A3A" stroke="#A8691a" stroke-width="0.42"/>
<rect x="190.00" y="467.70" width="8.75" height="1.90" fill="#A52A41" stroke="#6b1626" stroke-width="0.42"/>
<rect x="179.40" y="469.95" width="10.60" height="1.90" fill="#E09A3A" stroke="#A8691a" stroke-width="0.42"/>
<rect x="190.00" y="469.95" width="10.00" height="1.90" fill="#A52A41" stroke="#6b1626" stroke-width="0.42"/>
<rect x="191.25" y="472.20" width="27.75" height="1.90" fill="#A52A41" stroke="#6b1626" stroke-width="0.42"/>
<rect x="192.50" y="474.45" width="21.90" height="1.90" fill="#A52A41" stroke="#6b1626" stroke-width="0.42"/>
<rect x="195.00" y="476.70" width="24.00" height="1.90" fill="#A52A41" stroke="#6b1626" stroke-width="0.42"/>
<rect x="208.50" y="478.95" width="16.75" height="1.90" fill="#A52A41" stroke="#6b1626" stroke-width="0.42"/>
<text x="339.5" y="315.7" font-size="6.2" textLength="41.0" lengthAdjust="spacingAndGlyphs">MCL065 (IGHV)</text>
<text x="258.5" y="323.8" font-size="6.1" textLength="16.5" lengthAdjust="spacingAndGlyphs">MHC-I</text>
<text x="258.5" y="349.7" font-size="6.1" textLength="18.2" lengthAdjust="spacingAndGlyphs">MHC-II</text>
<rect x="444.80" y="319.90" width="16.60" height="1.85" fill="#A52A41" stroke="#6b1626" stroke-width="0.42"/>
<rect x="413.40" y="322.10" width="17.10" height="2.15" fill="#C4C1BF" stroke="#7b7978" stroke-width="0.42"/>
<rect x="383.80" y="324.20" width="20.90" height="2.05" fill="#C4C1BF" stroke="#7b7978" stroke-width="0.42"/>
<rect x="383.80" y="326.60" width="18.80" height="1.85" fill="#C4C1BF" stroke="#7b7978" stroke-width="0.42"/>
<rect x="435.3" y="328.25" width="28.1" height="4.45" rx="7" ry="2.2" fill="#A52A41"/>
<rect x="255.70" y="332.95" width="208.00" height="9.20" fill="#ECE9E9" stroke="#3a3a3a" stroke-width="0.9"/>
<rect x="302.00" y="333.40" width="13.75" height="8.30" fill="#7d7d7d"/>
<rect x="348.25" y="333.40" width="13.75" height="8.30" fill="#7d7d7d"/>
<rect x="435.75" y="333.40" width="27.85" height="8.30" fill="#8d8d8d"/>
<rect x="255.70" y="332.95" width="208.00" height="9.20" fill="none" stroke="#3a3a3a" stroke-width="0.9"/>
<text x="274.5" y="339.44999999999993" font-size="5.2" textLength="7.6" lengthAdjust="spacingAndGlyphs" fill="#333">FR1</text>
<text x="303.59999999999997" y="339.44999999999993" font-size="5.2" textLength="10.6" lengthAdjust="spacingAndGlyphs" fill="#333">CDR1</text>
<text x="327.5" y="339.44999999999993" font-size="5.2" textLength="7.6" lengthAdjust="spacingAndGlyphs" fill="#333">FR2</text>
<text x="349.8" y="339.44999999999993" font-size="5.2" textLength="10.6" lengthAdjust="spacingAndGlyphs" fill="#333">CDR2</text>
<text x="394.5" y="339.44999999999993" font-size="5.2" textLength="7.6" lengthAdjust="spacingAndGlyphs" fill="#333">FR3</text>
<text x="444.3" y="339.44999999999993" font-size="5.2" textLength="10.6" lengthAdjust="spacingAndGlyphs" fill="#333">CDR3</text>
<rect x="383.80" y="344.20" width="18.80" height="2.15" fill="#C4C1BF" stroke="#7b7978" stroke-width="0.42"/>
<text x="265.6" y="360.2" font-size="6.2" textLength="95.7" lengthAdjust="spacingAndGlyphs">Both untreated and CpG stimulated</text>
<rect x="404.40" y="346.20" width="24.10" height="1.90" fill="#C4C1BF" stroke="#7b7978" stroke-width="0.42"/>
<rect x="404.40" y="348.45" width="26.20" height="1.90" fill="#C4C1BF" stroke="#7b7978" stroke-width="0.42"/>
<rect x="404.40" y="350.70" width="28.10" height="1.90" fill="#C4C1BF" stroke="#7b7978" stroke-width="0.42"/>
<rect x="404.40" y="352.95" width="29.35" height="1.90" fill="#C4C1BF" stroke="#7b7978" stroke-width="0.42"/>
<rect x="404.40" y="355.20" width="31.20" height="1.90" fill="#C4C1BF" stroke="#7b7978" stroke-width="0.42"/>
<rect x="406.50" y="357.45" width="23.50" height="1.90" fill="#C4C1BF" stroke="#7b7978" stroke-width="0.42"/>
<rect x="406.50" y="359.70" width="25.40" height="1.90" fill="#C4C1BF" stroke="#7b7978" stroke-width="0.42"/>
<rect x="406.50" y="361.95" width="27.25" height="1.90" fill="#C4C1BF" stroke="#7b7978" stroke-width="0.42"/>
<rect x="406.50" y="364.20" width="29.10" height="1.90" fill="#C4C1BF" stroke="#7b7978" stroke-width="0.42"/>
<rect x="408.50" y="366.45" width="25.25" height="1.90" fill="#C4C1BF" stroke="#7b7978" stroke-width="0.42"/>
<rect x="408.50" y="368.70" width="27.10" height="1.90" fill="#C4C1BF" stroke="#7b7978" stroke-width="0.42"/>
<rect x="408.50" y="370.95" width="27.10" height="1.90" fill="#C4C1BF" stroke="#7b7978" stroke-width="0.42"/>
<rect x="411.25" y="373.20" width="21.25" height="1.90" fill="#C4C1BF" stroke="#7b7978" stroke-width="0.42"/>
<line x1="282.5" y1="376.3" x2="464.0" y2="376.3" stroke="#222" stroke-width="1.0" stroke-dasharray="3.3 2.1"/>
<line x1="282.5" y1="385.4" x2="464.0" y2="385.4" stroke="#222" stroke-width="1.0" stroke-dasharray="3.3 2.1"/>
<text x="260.5" y="382.7" font-size="6.2" textLength="48.7" lengthAdjust="spacingAndGlyphs">Only by untreated</text>
<rect x="405.00" y="377.40" width="30.60" height="1.85" fill="#42608B" stroke="#2f4a72" stroke-width="0.42"/>
<rect x="435.60" y="377.40" width="1.30" height="1.85" fill="#A52A41" stroke="#6b1626" stroke-width="0.42"/>
<rect x="413.75" y="379.60" width="21.85" height="1.85" fill="#42608B" stroke="#2f4a72" stroke-width="0.42"/>
<rect x="435.60" y="379.60" width="5.40" height="1.85" fill="#A52A41" stroke="#6b1626" stroke-width="0.42"/>
<rect x="421.25" y="381.80" width="14.35" height="1.85" fill="#42608B" stroke="#2f4a72" stroke-width="0.42"/>
<rect x="278.00" y="385.80" width="29.50" height="2.05" fill="#E09A3A" stroke="#A8691a" stroke-width="0.42"/>
<text x="263.0" y="405.0" font-size="6.2" textLength="63.8" lengthAdjust="spacingAndGlyphs">Only by CpG stimulated</text>
<rect x="386.25" y="388.45" width="38.50" height="1.90" fill="#E09A3A" stroke="#A8691a" stroke-width="0.42"/>
<rect x="388.10" y="390.70" width="36.65" height="1.90" fill="#E09A3A" stroke="#A8691a" stroke-width="0.42"/>
<rect x="393.50" y="392.95" width="29.00" height="1.90" fill="#E09A3A" stroke="#A8691a" stroke-width="0.42"/>
<rect x="393.50" y="395.20" width="31.25" height="1.90" fill="#E09A3A" stroke="#A8691a" stroke-width="0.42"/>
<rect x="404.40" y="397.45" width="14.35" height="1.90" fill="#E09A3A" stroke="#A8691a" stroke-width="0.42"/>
<rect x="404.40" y="399.70" width="16.20" height="1.90" fill="#E09A3A" stroke="#A8691a" stroke-width="0.42"/>
<rect x="406.50" y="401.95" width="14.10" height="1.90" fill="#E09A3A" stroke="#A8691a" stroke-width="0.42"/>
<rect x="408.75" y="404.20" width="19.75" height="1.90" fill="#E09A3A" stroke="#A8691a" stroke-width="0.42"/>
<rect x="408.75" y="406.45" width="21.50" height="1.90" fill="#E09A3A" stroke="#A8691a" stroke-width="0.42"/>
<rect x="412.25" y="408.70" width="23.35" height="1.90" fill="#E09A3A" stroke="#A8691a" stroke-width="0.42"/>
<rect x="415.40" y="410.95" width="20.20" height="1.90" fill="#E09A3A" stroke="#A8691a" stroke-width="0.42"/>
<rect x="435.60" y="410.95" width="6.90" height="1.90" fill="#A52A41" stroke="#6b1626" stroke-width="0.42"/>
<rect x="417.50" y="413.20" width="18.10" height="1.90" fill="#E09A3A" stroke="#A8691a" stroke-width="0.42"/>
<rect x="435.60" y="413.20" width="6.90" height="1.90" fill="#A52A41" stroke="#6b1626" stroke-width="0.42"/>
<rect x="241.20" y="425.00" width="22.00" height="5.00" fill="#8b8b8b"/>
<rect x="241.20" y="440.00" width="22.00" height="5.20" fill="#3F5C88"/>
<rect x="241.20" y="455.00" width="22.00" height="5.30" fill="#E09A3A"/>
<text x="266.2" y="425.8" font-size="5.2" textLength="60.2" lengthAdjust="spacingAndGlyphs">Peptide presented by both</text>
<text x="266.2" y="432.2" font-size="5.2" textLength="94.5" lengthAdjust="spacingAndGlyphs">untreated and CpG stimulated lymphoma</text>
<text x="266.2" y="444.5" font-size="5.2" textLength="108.6" lengthAdjust="spacingAndGlyphs">Peptide presented only by untreated lymphoma</text>
<text x="266.2" y="459.3" font-size="5.2" textLength="121.3" lengthAdjust="spacingAndGlyphs">Peptide presented only by CpG stimulated lymphoma</text>
<rect x="0" y="0" width="520" height="1.5" fill="#454545"/>
<rect x="0" y="0" width="1.3" height="488" fill="#454545"/>
<rect x="518.4" y="0" width="1.6" height="488" fill="#454545"/>
<rect x="0" y="486.1" width="520" height="1.9" fill="#454545"/>
</svg></body></html>
